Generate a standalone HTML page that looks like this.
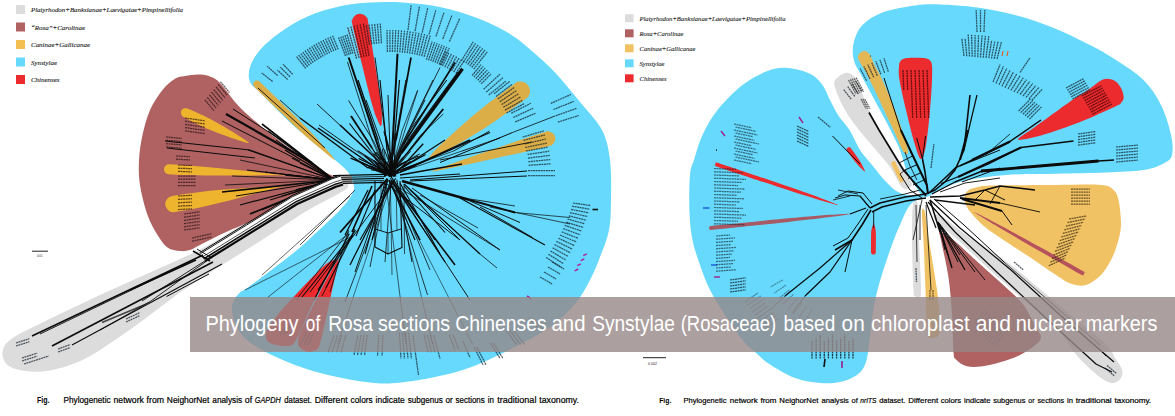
<!DOCTYPE html>
<html><head><meta charset="utf-8"><title>Phylogeny of Rosa</title>
<style>
html,body{margin:0;padding:0;background:#fff;}
body{width:1175px;height:416px;overflow:hidden;position:relative;font-family:"Liberation Sans",sans-serif;}
.banner{position:absolute;left:190px;top:297px;width:985px;height:55px;background:rgba(150,135,135,0.80);}
.banner span{position:absolute;left:15px;top:11px;white-space:nowrap;color:#fff;font-size:23px;line-height:32px;letter-spacing:-0.62px;font-family:"Liberation Sans",sans-serif;}
</style></head><body>
<svg width="1175" height="416" viewBox="0 0 1175 416" style="position:absolute;left:0;top:0">
<path d="M250.0,82.0 C248.3,77.8 248.3,72.3 250.0,67.0 C251.7,61.7 255.0,55.8 260.0,50.0 C265.0,44.2 272.1,38.1 280.0,32.5 C287.9,26.9 297.5,20.9 307.5,16.5 C317.5,12.1 329.6,8.6 340.0,6.3 C350.4,4.0 359.6,3.2 370.0,2.6 C380.4,2.0 390.8,1.8 402.5,2.5 C414.2,3.2 427.6,4.4 440.0,7.0 C452.4,9.6 465.3,13.5 477.0,18.0 C488.7,22.5 500.7,28.3 510.0,34.0 C519.3,39.7 525.5,45.6 533.0,52.0 C540.5,58.4 547.2,64.2 555.0,72.5 C562.8,80.8 572.2,92.4 580.0,102.0 C587.8,111.6 597.0,120.3 602.0,130.0 C607.0,139.7 608.5,148.3 610.0,160.0 C611.5,171.7 611.2,188.3 611.0,200.0 C610.8,211.7 610.8,220.5 609.0,230.0 C607.2,239.5 603.2,248.7 600.0,257.0 C596.8,265.3 594.2,272.2 590.0,280.0 C585.8,287.8 581.7,296.2 575.0,304.0 C568.3,311.8 560.2,319.8 550.0,327.0 C539.8,334.2 527.3,340.8 514.0,347.5 C500.7,354.2 483.6,362.5 470.0,367.5 C456.4,372.5 445.0,374.9 432.5,377.5 C420.0,380.1 405.4,382.2 395.0,383.0 C384.6,383.8 380.4,383.7 370.0,382.5 C359.6,381.3 345.0,378.9 332.5,376.0 C320.0,373.1 307.5,369.8 295.0,365.0 C282.5,360.2 266.7,352.9 257.5,347.5 C248.3,342.1 244.2,337.9 240.0,332.5 C235.8,327.1 233.7,320.0 232.5,315.0 C231.3,310.0 231.8,306.2 233.0,302.5 C234.2,298.8 237.2,295.2 240.0,292.5 C242.8,289.8 241.0,292.7 250.0,286.0 C259.0,279.3 282.8,261.5 294.0,252.5 C305.2,243.5 309.3,239.1 317.0,232.0 C324.7,224.9 334.3,216.0 340.0,210.0 C345.7,204.0 348.7,200.0 351.0,196.0 C353.3,192.0 354.5,190.0 354.0,186.0 C353.5,182.0 351.2,176.3 348.0,172.0 C344.8,167.7 339.7,164.1 335.0,160.0 C330.3,155.9 327.5,153.8 320.0,147.5 C312.5,141.2 300.0,131.7 290.0,122.5 C280.0,113.3 266.7,99.2 260.0,92.5 C253.3,85.8 251.7,86.2 250.0,82.0Z" fill="#66d9fc" />
<path d="M338.0,176.0 C330.0,176.8 314.7,183.7 300.0,191.0 C285.3,198.3 265.8,210.7 250.0,220.0 C234.2,229.3 220.0,239.0 205.0,247.0 C190.0,255.0 177.5,260.0 160.0,268.0 C142.5,276.0 120.4,285.5 100.0,295.0 C79.6,304.5 52.5,317.5 37.5,325.0 C22.5,332.5 15.8,335.4 10.0,340.0 C4.2,344.6 2.9,348.3 2.5,352.5 C2.1,356.7 3.8,361.9 7.5,365.0 C11.2,368.1 17.9,370.1 25.0,371.0 C32.1,371.9 40.4,372.3 50.0,370.5 C59.6,368.7 71.7,365.1 82.5,360.0 C93.3,354.9 103.8,347.5 115.0,340.0 C126.2,332.5 139.2,322.9 150.0,315.0 C160.8,307.1 168.0,300.8 180.0,292.5 C192.0,284.2 208.3,273.8 222.0,265.0 C235.7,256.2 248.2,248.8 262.0,240.0 C275.8,231.2 292.3,219.7 305.0,212.0 C317.7,204.3 330.8,198.3 338.0,194.0 C345.2,189.7 348.0,189.0 348.0,186.0 C348.0,183.0 346.0,175.2 338.0,176.0Z" fill="#dcdcdc" />
<path d="M334.0,178.0 C334.8,175.4 329.4,175.0 325.0,172.0 C320.6,169.0 314.2,164.5 307.5,160.0 C300.8,155.5 292.5,150.4 285.0,145.0 C277.5,139.6 270.0,133.8 262.5,127.5 C255.0,121.2 246.7,114.4 240.0,107.5 C233.3,100.6 226.7,90.8 222.5,86.0 C218.3,81.2 217.9,80.6 215.0,78.8 C212.1,76.9 207.9,75.7 205.0,75.0 C202.1,74.3 200.8,74.3 197.5,74.5 C194.2,74.7 188.8,75.3 185.0,76.0 C181.2,76.7 178.8,76.4 175.0,78.8 C171.2,81.1 166.7,84.8 162.5,90.0 C158.3,95.2 153.3,102.5 150.0,110.0 C146.7,117.5 144.3,126.7 142.5,135.0 C140.7,143.3 139.4,151.7 139.0,160.0 C138.6,168.3 138.6,175.8 140.0,185.0 C141.4,194.2 144.6,206.7 147.5,215.0 C150.4,223.3 154.2,229.6 157.5,235.0 C160.8,240.4 163.8,244.8 167.5,247.5 C171.2,250.2 176.2,250.6 180.0,251.0 C183.8,251.4 186.7,251.0 190.0,250.0 C193.3,249.0 194.2,247.9 200.0,245.0 C205.8,242.1 215.0,237.1 225.0,232.5 C235.0,227.9 249.2,222.5 260.0,217.5 C270.8,212.5 280.0,207.5 290.0,202.5 C300.0,197.5 312.7,191.6 320.0,187.5 C327.3,183.4 333.2,180.6 334.0,178.0Z" fill="#b06262" />
<path d="M183.5,117.0 C186.9,118.7 195.9,123.6 202.3,126.5 C208.7,129.4 215.9,132.2 221.9,134.5 C228.0,136.7 234.1,138.8 238.6,140.2 C243.2,141.6 248.7,143.6 249.0,143.0 C249.3,142.4 244.3,139.3 240.3,136.7 C236.4,134.1 230.9,130.6 225.3,127.4 C219.7,124.1 213.1,120.3 206.8,117.2 C200.5,114.1 190.9,110.1 187.5,108.6 C184.0,107.2 186.6,108.3 186.1,108.2 C185.6,108.2 185.1,108.2 184.7,108.3 C184.2,108.4 183.7,108.5 183.3,108.8 C182.9,109.0 182.5,109.3 182.2,109.6 C181.8,110.0 181.5,110.4 181.3,110.8 C181.1,111.3 181.0,111.7 180.9,112.2 C180.9,112.7 180.9,113.2 181.0,113.6 C181.1,114.1 181.2,114.6 181.5,115.0 C181.7,115.4 182.0,115.8 182.3,116.1 C182.7,116.5 180.2,115.2 183.5,117.0Z" fill="#efb42e" />
<path d="M168.7,174.2 C227.7,177.3 260.7,174.0 300.0,176.0 C260.7,174.0 228.2,167.3 169.3,164.2 A5.0,5.0 0 0 0 168.7,174.2 Z" fill="#efb42e" />
<path d="M174.8,212.1 C231.8,202.6 262.1,189.3 300.0,183.0 C262.1,189.3 229.1,186.5 172.2,195.9 A8.2,8.2 0 0 0 174.8,212.1 Z" fill="#efb42e" />
<path d="M254.4,87.0 C258.4,91.0 270.0,102.1 277.8,109.7 C285.7,117.2 294.8,126.0 301.4,132.2 C308.1,138.3 312.2,141.9 317.8,146.5 C323.4,151.1 334.5,160.5 335.0,160.0 C335.5,159.5 325.8,148.7 321.0,143.2 C316.2,137.8 312.5,133.7 306.2,127.3 C299.8,120.8 290.7,112.0 283.0,104.4 C275.2,96.7 263.7,85.5 259.6,81.6 C255.6,77.7 259.0,81.1 258.7,80.9 C258.3,80.7 257.9,80.6 257.5,80.5 C257.2,80.5 256.7,80.5 256.3,80.6 C256.0,80.6 255.6,80.8 255.2,80.9 C254.9,81.1 254.5,81.4 254.3,81.7 C254.0,81.9 253.8,82.3 253.6,82.6 C253.4,83.0 253.3,83.4 253.2,83.8 C253.2,84.1 253.2,84.6 253.3,85.0 C253.3,85.3 253.5,85.7 253.6,86.1 C253.8,86.4 250.3,83.1 254.4,87.0Z" fill="#dcae48" />
<path d="M514.9,83.4 C509.1,87.6 491.3,100.9 483.1,107.4 C474.9,113.8 472.1,116.4 465.7,122.0 C459.2,127.6 449.4,136.7 444.5,141.2 C439.6,145.7 438.8,146.2 436.2,149.1 C433.6,152.0 428.3,157.6 429.0,158.5 C429.7,159.4 436.6,156.0 440.1,154.4 C443.6,152.8 444.4,152.2 450.1,148.8 C455.9,145.5 467.4,138.7 474.7,134.2 C482.0,129.8 485.3,127.8 493.8,121.9 C502.4,116.0 520.4,102.9 526.1,98.6 C531.9,94.4 527.7,97.3 528.2,96.5 C528.8,95.7 529.3,94.8 529.6,93.9 C529.9,92.9 530.0,91.9 530.0,90.9 C530.0,90.0 529.8,88.9 529.5,88.0 C529.2,87.1 528.7,86.1 528.1,85.4 C527.6,84.6 526.8,83.8 526.0,83.3 C525.2,82.7 524.3,82.2 523.4,81.9 C522.4,81.6 521.4,81.5 520.4,81.5 C519.5,81.5 518.4,81.7 517.5,82.0 C516.6,82.3 520.6,79.1 514.9,83.4Z" fill="#dcae48" />
<path d="M546.0,131.7 C541.8,132.9 532.2,136.0 523.1,139.0 C513.9,142.1 502.5,146.1 491.1,150.0 C479.7,153.9 464.5,159.1 454.6,162.7 C444.8,166.2 431.8,170.6 432.0,171.3 C432.2,172.0 445.5,169.0 455.8,166.9 C466.0,164.8 481.8,161.3 493.5,158.7 C505.3,156.1 517.1,153.6 526.5,151.4 C535.9,149.2 545.7,146.8 550.0,145.7 C554.2,144.6 551.4,145.2 552.1,144.8 C552.7,144.4 553.3,143.8 553.7,143.2 C554.2,142.6 554.6,141.9 554.8,141.2 C555.1,140.5 555.3,139.7 555.3,139.0 C555.3,138.2 555.2,137.4 555.0,136.7 C554.8,136.0 554.5,135.3 554.1,134.6 C553.7,134.0 553.1,133.4 552.5,133.0 C551.9,132.5 551.2,132.1 550.5,131.9 C549.8,131.6 549.0,131.4 548.3,131.4 C547.5,131.4 550.2,130.4 546.0,131.7Z" fill="#dcae48" />
<path d="M352.2,23.4 C353.7,30.2 358.0,48.0 361.3,61.7 C364.7,75.3 369.6,95.4 372.3,105.0 C374.9,114.6 375.7,115.7 377.2,119.2 C378.6,122.7 380.2,126.2 381.0,126.0 C381.8,125.8 381.9,122.0 381.9,118.2 C381.9,114.4 382.2,113.1 380.9,103.2 C379.6,93.4 376.4,72.9 374.2,59.1 C372.0,45.2 369.0,27.1 367.8,20.2 C366.6,13.4 367.4,18.6 367.0,17.9 C366.6,17.2 366.0,16.5 365.4,15.9 C364.8,15.4 364.1,14.9 363.3,14.5 C362.6,14.2 361.7,13.9 360.9,13.9 C360.1,13.8 359.2,13.8 358.4,14.0 C357.6,14.1 356.8,14.4 356.1,14.8 C355.4,15.2 354.7,15.8 354.1,16.4 C353.6,17.0 353.1,17.7 352.7,18.5 C352.4,19.2 352.1,20.1 352.1,20.9 C352.0,21.7 350.6,16.6 352.2,23.4Z" fill="#ec2b2f" />
<path d="M336.0,260.0 C334.7,259.8 331.0,260.0 325.0,265.0 C319.0,270.0 307.9,281.7 300.0,290.0 C292.1,298.3 283.2,307.8 277.5,315.0 C271.8,322.2 267.2,328.3 266.0,333.0 C264.8,337.7 266.5,340.8 270.0,343.0 C273.5,345.2 282.7,346.5 287.0,346.0 C291.3,345.5 291.8,346.8 296.0,340.0 C300.2,333.2 305.8,317.3 312.0,305.0 C318.2,292.7 329.0,273.5 333.0,266.0 C337.0,258.5 337.3,260.2 336.0,260.0Z" fill="#ec2b2f" />
<path d="M337.0,261.0 C334.8,264.2 329.2,274.2 325.0,282.0 C320.8,289.8 316.5,298.3 312.0,308.0 C307.5,317.7 299.2,332.8 298.0,340.0 C296.8,347.2 302.0,349.3 305.0,351.0 C308.0,352.7 313.3,351.8 316.0,350.0 C318.7,348.2 318.7,348.3 321.0,340.0 C323.3,331.7 327.2,312.8 330.0,300.0 C332.8,287.2 336.8,269.5 338.0,263.0 C339.2,256.5 339.2,257.8 337.0,261.0Z" fill="#ec2b2f" />
<path d="M787.5,68.0 C794.6,68.5 804.2,70.9 810.0,73.8 C815.8,76.6 819.2,80.6 822.5,85.0 C825.8,89.4 827.4,95.0 830.0,100.0 C832.6,105.0 834.8,110.0 838.0,115.0 C841.2,120.0 845.8,124.2 849.5,130.0 C853.2,135.8 856.3,144.3 860.0,150.0 C863.7,155.7 867.3,159.1 871.6,164.4 C875.9,169.7 881.7,177.1 886.0,181.7 C890.3,186.3 893.9,189.6 897.6,191.8 C901.3,194.0 903.6,194.3 908.0,195.0 C912.4,195.7 923.7,194.3 924.0,196.0 C924.3,197.7 914.0,200.2 910.0,205.0 C906.0,209.8 902.8,218.8 900.0,225.0 C897.2,231.2 895.5,235.3 893.0,242.0 C890.5,248.7 887.6,257.0 885.0,265.0 C882.4,273.0 879.6,281.7 877.5,290.0 C875.4,298.3 873.8,307.2 872.5,315.0 C871.2,322.8 871.1,329.2 870.0,337.0 C868.9,344.8 868.1,355.8 866.0,362.0 C863.9,368.2 861.8,371.2 857.5,374.5 C853.2,377.8 846.2,380.6 840.0,382.0 C833.8,383.4 827.5,383.7 820.0,383.0 C812.5,382.3 803.3,381.1 795.0,378.0 C786.7,374.9 776.7,368.8 770.0,364.5 C763.3,360.2 759.6,356.1 755.0,352.0 C750.4,347.9 747.5,346.2 742.5,340.0 C737.5,333.8 730.4,323.3 725.0,315.0 C719.6,306.7 714.2,298.3 710.0,290.0 C705.8,281.7 702.9,273.3 700.0,265.0 C697.1,256.7 694.2,248.8 692.5,240.0 C690.8,231.2 689.9,223.3 689.5,212.5 C689.1,201.7 689.2,183.8 690.0,175.0 C690.8,166.2 691.9,166.7 694.0,160.0 C696.1,153.3 698.6,143.3 702.5,135.0 C706.4,126.7 710.8,118.3 717.5,110.0 C724.2,101.7 734.2,91.5 742.5,85.0 C750.8,78.5 760.0,73.8 767.5,71.0 C775.0,68.2 780.4,67.5 787.5,68.0Z" fill="#66d9fc" />
<path d="M925.0,197.0 C921.0,196.5 918.8,190.7 916.0,187.0 C913.2,183.3 910.0,179.0 908.0,175.0 C906.0,171.0 905.3,167.2 904.0,163.0 C902.7,158.8 901.8,154.7 900.0,150.0 C898.2,145.3 896.3,141.7 893.0,135.0 C889.7,128.3 885.1,119.6 880.0,110.0 C874.9,100.4 866.9,85.8 862.5,77.5 C858.1,69.2 855.2,65.8 853.8,60.0 C852.3,54.2 852.3,48.3 853.8,42.5 C855.2,36.7 857.7,30.0 862.5,25.0 C867.3,20.0 873.8,15.8 882.5,12.5 C891.2,9.2 905.4,6.8 915.0,5.5 C924.6,4.2 929.6,4.2 940.0,4.5 C950.4,4.8 965.0,5.8 977.5,7.5 C990.0,9.2 1002.5,11.7 1015.0,15.0 C1027.5,18.3 1040.0,22.5 1052.5,27.5 C1065.0,32.5 1079.4,39.6 1090.0,45.0 C1100.6,50.4 1107.1,54.2 1116.0,60.0 C1124.9,65.8 1136.0,72.5 1143.5,80.0 C1151.0,87.5 1156.4,95.8 1161.0,105.0 C1165.6,114.2 1169.2,126.7 1171.0,135.0 C1172.8,143.3 1173.2,150.2 1172.0,155.0 C1170.8,159.8 1168.2,161.0 1163.5,163.5 C1158.8,166.0 1153.1,168.5 1143.5,170.0 C1133.9,171.5 1120.6,171.9 1106.0,172.5 C1091.4,173.1 1072.7,173.3 1056.0,173.8 C1039.3,174.2 1021.4,173.8 1006.0,175.0 C990.6,176.2 974.5,178.5 963.5,181.0 C952.5,183.5 946.4,187.3 940.0,190.0 C933.6,192.7 929.0,197.5 925.0,197.0Z" fill="#66d9fc" />
<path d="M845.5,73.0 C848.3,72.4 851.0,73.9 853.0,75.5 C855.0,77.1 855.0,77.2 857.5,82.5 C860.0,87.8 864.4,99.6 868.0,107.5 C871.6,115.4 875.1,122.9 879.0,130.0 C882.9,137.1 887.3,143.6 891.5,150.0 C895.7,156.4 900.6,162.8 904.0,168.5 C907.4,174.2 912.2,180.8 912.0,184.0 C911.8,187.2 906.7,190.8 903.0,188.0 C899.3,185.2 894.5,173.3 890.0,167.0 C885.5,160.7 881.2,156.2 876.0,150.0 C870.8,143.8 864.2,136.7 859.0,130.0 C853.8,123.3 849.0,117.1 845.0,110.0 C841.0,102.9 836.5,92.7 835.0,87.5 C833.5,82.3 834.2,81.4 836.0,79.0 C837.8,76.6 842.7,73.6 845.5,73.0Z" fill="#dcdcdc" />
<path d="M864.5,51.0 C866.0,51.1 867.8,52.3 869.0,53.5 C870.2,54.7 870.5,55.9 871.5,58.0 C872.5,60.1 873.6,63.2 875.0,66.0 C876.4,68.8 877.8,70.5 880.0,75.0 C882.2,79.5 885.5,87.2 888.0,93.0 C890.5,98.8 892.7,103.8 895.0,110.0 C897.3,116.2 899.8,123.2 902.0,130.0 C904.2,136.8 907.7,147.3 908.0,151.0 C908.3,154.7 906.1,155.5 903.7,152.0 C901.3,148.5 896.2,135.8 893.5,130.0 C890.8,124.2 890.2,123.3 887.5,117.5 C884.8,111.7 880.6,102.5 877.0,95.0 C873.4,87.5 868.7,77.7 866.0,72.5 C863.3,67.3 862.3,66.4 861.0,64.0 C859.7,61.6 858.2,59.8 858.0,58.0 C857.8,56.2 858.9,54.2 860.0,53.0 C861.1,51.8 863.0,50.9 864.5,51.0Z" fill="#e4b755" />
<path d="M899.0,66.0 C899.2,62.8 899.7,61.8 901.0,60.5 C902.3,59.2 903.2,58.4 907.0,58.0 C910.8,57.6 920.2,57.6 924.0,58.0 C927.8,58.4 928.7,59.2 930.0,60.5 C931.3,61.8 931.7,62.8 932.0,66.0 C932.3,69.2 932.3,72.7 932.0,80.0 C931.7,87.3 931.0,99.2 930.0,110.0 C929.0,120.8 927.5,136.8 926.0,145.0 C924.5,153.2 922.8,159.0 921.0,159.0 C919.2,159.0 917.5,153.2 915.0,145.0 C912.5,136.8 908.6,120.8 906.0,110.0 C903.4,99.2 900.7,87.3 899.5,80.0 C898.3,72.7 898.8,69.2 899.0,66.0Z" fill="#ec2b2f" />
<path d="M1100.0,81.0 C1102.8,79.4 1104.5,78.7 1107.0,78.7 C1109.5,78.7 1112.7,79.5 1115.0,81.0 C1117.3,82.5 1119.5,85.2 1121.0,88.0 C1122.5,90.8 1123.7,95.0 1123.7,97.5 C1123.7,100.0 1122.3,101.5 1121.0,103.0 C1119.7,104.5 1121.5,103.5 1115.8,106.2 C1110.1,108.9 1096.4,115.2 1086.8,119.2 C1077.2,123.2 1066.5,127.0 1057.9,130.0 C1049.3,133.0 1041.7,135.4 1035.0,137.0 C1028.3,138.6 1018.5,140.8 1018.0,139.5 C1017.5,138.2 1026.5,133.2 1031.8,129.3 C1037.1,125.4 1043.0,121.0 1050.0,116.0 C1057.0,111.0 1067.1,103.6 1073.8,99.0 C1080.5,94.4 1085.6,91.5 1090.0,88.5 C1094.4,85.5 1097.2,82.6 1100.0,81.0Z" fill="#ec2b2f" />
<path d="M716.4,166.5 C726.6,169.9 759.7,180.9 776.9,186.5 C794.1,192.1 809.3,196.9 819.5,200.0 C829.7,203.1 837.9,205.3 838.0,205.0 C838.1,204.7 830.2,201.5 820.2,197.9 C810.2,194.2 795.2,189.0 778.1,183.1 C761.0,177.2 727.8,166.1 717.6,162.7 C707.5,159.3 717.2,162.6 717.0,162.6 C716.8,162.6 716.6,162.6 716.4,162.7 C716.2,162.8 716.0,162.9 715.8,163.0 C715.7,163.1 715.5,163.2 715.4,163.4 C715.3,163.6 715.2,163.8 715.1,164.0 C715.0,164.2 715.0,164.4 715.0,164.6 C715.0,164.8 715.0,165.0 715.1,165.2 C715.2,165.4 715.3,165.6 715.4,165.8 C715.5,165.9 715.6,166.1 715.8,166.2 C716.0,166.3 706.2,163.1 716.4,166.5Z" fill="#ec2b2f" />
<path d="M711.2,230.0 C723.0,228.8 761.4,224.9 781.2,222.7 C801.0,220.5 818.5,218.5 830.1,217.0 C841.7,215.5 851.0,214.2 851.0,213.8 C851.0,213.4 841.6,214.0 829.9,214.8 C818.2,215.7 800.7,217.2 780.8,219.1 C761.0,221.0 722.6,224.8 710.8,226.0 C699.0,227.2 710.4,226.1 710.2,226.2 C710.0,226.3 709.8,226.4 709.7,226.5 C709.5,226.6 709.4,226.8 709.3,227.0 C709.2,227.2 709.1,227.4 709.0,227.6 C709.0,227.8 709.0,228.0 709.0,228.2 C709.0,228.4 709.1,228.6 709.2,228.8 C709.3,229.0 709.4,229.2 709.5,229.3 C709.6,229.5 709.8,229.6 710.0,229.7 C710.2,229.8 710.4,229.9 710.6,230.0 C710.8,230.0 699.4,231.2 711.2,230.0Z" fill="#a85a64" />
<path d="M847.1,151.0 C848.2,152.6 851.6,157.2 853.6,159.7 C855.5,162.2 856.9,164.0 858.8,165.9 C860.8,167.9 864.5,171.8 865.0,171.5 C865.5,171.2 862.8,166.4 861.6,163.9 C860.3,161.5 859.0,159.6 857.2,157.0 C855.5,154.4 852.1,149.7 850.9,148.2 C849.8,146.6 850.6,147.8 850.4,147.7 C850.2,147.5 850.0,147.4 849.7,147.3 C849.5,147.2 849.2,147.2 849.0,147.2 C848.7,147.2 848.5,147.2 848.3,147.3 C848.0,147.4 847.8,147.5 847.6,147.7 C847.4,147.8 847.2,148.0 847.1,148.2 C846.9,148.4 846.8,148.6 846.7,148.9 C846.6,149.1 846.6,149.4 846.6,149.6 C846.6,149.9 846.6,150.1 846.7,150.3 C846.8,150.6 845.9,149.5 847.1,151.0Z" fill="#ec2b2f" />
<path d="M893.5,163.5 L901.5,180" fill="none" stroke="#f1c264" stroke-width="4.6" stroke-linecap="round"/>
<path d="M875.8,252.2 C875.8,249.1 876.0,238.4 875.9,234.4 C875.8,230.4 875.6,230.0 875.4,228.5 C875.1,226.9 874.6,225.9 874.3,224.9 C874.0,223.9 873.8,222.5 873.6,222.5 C873.4,222.5 873.2,223.9 872.9,224.9 C872.6,225.9 872.1,226.8 871.8,228.4 C871.5,230.0 871.2,230.4 871.1,234.4 C871.0,238.3 871.0,249.1 871.0,252.2 C871.0,255.3 871.0,252.7 871.1,252.9 C871.2,253.2 871.3,253.4 871.4,253.6 C871.6,253.8 871.8,254.0 872.0,254.1 C872.2,254.3 872.4,254.4 872.6,254.5 C872.9,254.6 873.1,254.6 873.4,254.6 C873.6,254.6 873.9,254.6 874.1,254.5 C874.4,254.4 874.6,254.3 874.8,254.2 C875.0,254.0 875.2,253.8 875.3,253.6 C875.5,253.4 875.6,253.2 875.7,253.0 C875.8,252.7 875.8,255.3 875.8,252.2Z" fill="#ec2b2f" />
<path d="M964.5,197.0 C964.8,194.6 965.8,192.2 968.0,190.5 C970.2,188.8 973.8,187.8 978.0,187.0 C982.2,186.2 980.5,185.8 993.5,185.5 C1006.5,185.2 1038.1,185.1 1056.0,185.0 C1073.9,184.9 1091.4,184.2 1101.0,185.0 C1110.6,185.8 1110.6,187.5 1113.5,190.0 C1116.4,192.5 1117.2,194.2 1118.5,200.0 C1119.8,205.8 1121.2,217.5 1121.0,225.0 C1120.8,232.5 1118.7,239.2 1117.0,245.0 C1115.3,250.8 1113.7,255.0 1111.0,260.0 C1108.3,265.0 1105.2,270.8 1101.0,275.0 C1096.8,279.2 1091.0,283.5 1086.0,285.0 C1081.0,286.5 1076.0,285.4 1071.0,283.8 C1066.0,282.1 1063.2,279.6 1056.0,275.0 C1048.8,270.4 1036.8,261.8 1028.0,256.0 C1019.2,250.2 1010.7,244.8 1003.5,240.0 C996.3,235.2 990.2,231.3 985.0,227.0 C979.8,222.7 975.2,217.7 972.0,214.0 C968.8,210.3 967.2,207.8 966.0,205.0 C964.8,202.2 964.2,199.4 964.5,197.0Z" fill="#f1c264" />
<path d="M1083.3,271.2 C1076.0,267.1 1054.4,255.0 1039.9,247.0 C1025.3,239.1 1007.2,229.1 996.2,223.3 C985.2,217.4 974.2,211.7 974.0,212.0 C973.8,212.3 984.5,218.8 995.1,225.1 C1005.8,231.5 1023.7,241.9 1038.1,250.2 C1052.5,258.4 1074.0,270.7 1081.3,274.8 C1088.6,279.0 1081.7,275.0 1081.9,275.1 C1082.1,275.1 1082.3,275.1 1082.5,275.1 C1082.8,275.1 1083.0,275.0 1083.2,274.9 C1083.4,274.8 1083.6,274.7 1083.7,274.5 C1083.9,274.4 1084.0,274.2 1084.1,274.0 C1084.2,273.8 1084.3,273.6 1084.4,273.4 C1084.4,273.2 1084.4,273.0 1084.4,272.8 C1084.4,272.5 1084.3,272.3 1084.2,272.1 C1084.1,271.9 1084.0,271.7 1083.8,271.6 C1083.7,271.4 1090.7,275.3 1083.3,271.2Z" fill="#b5525c" />
<path d="M940.0,232.0 C937.9,232.0 939.6,232.4 941.0,240.0 C942.4,247.6 946.7,265.0 948.5,277.5 C950.3,290.0 951.2,302.6 952.0,315.0 C952.8,327.4 952.8,344.6 953.5,352.0 C954.2,359.4 953.9,357.2 956.0,359.5 C958.1,361.8 961.8,364.8 966.0,366.0 C970.2,367.2 975.2,367.2 981.0,366.5 C986.8,365.8 994.3,364.0 1001.0,362.0 C1007.7,360.0 1015.2,357.4 1021.0,354.5 C1026.8,351.6 1032.7,347.4 1036.0,344.5 C1039.3,341.6 1041.0,339.8 1041.0,337.0 C1041.0,334.2 1038.9,332.8 1036.0,327.5 C1033.1,322.2 1028.5,311.7 1023.5,305.0 C1018.5,298.3 1013.1,294.2 1006.0,287.5 C998.9,280.8 989.8,272.9 981.0,265.0 C972.2,257.1 960.3,245.5 953.5,240.0 C946.7,234.5 942.1,232.0 940.0,232.0Z" fill="#b06262" />
<path d="M940.0,215.0 C944.8,217.2 955.8,227.6 963.5,233.0 C971.2,238.4 978.1,242.2 986.0,247.5 C993.9,252.8 1001.8,257.9 1011.0,265.0 C1020.2,272.1 1031.0,281.7 1041.0,290.0 C1051.0,298.3 1060.2,306.0 1071.0,315.0 C1081.8,324.0 1098.7,336.8 1106.0,344.0 C1113.3,351.2 1112.3,353.8 1115.0,358.0 C1117.7,362.2 1121.0,366.2 1122.0,369.5 C1123.0,372.8 1122.3,375.8 1121.0,378.0 C1119.7,380.2 1116.5,382.5 1114.0,383.0 C1111.5,383.5 1109.4,382.8 1106.0,381.0 C1102.6,379.2 1098.5,376.4 1093.5,372.0 C1088.5,367.6 1082.2,361.9 1076.0,354.5 C1069.8,347.1 1065.2,337.0 1056.0,327.5 C1046.8,318.0 1032.0,307.1 1021.0,297.5 C1010.0,287.9 1000.2,279.2 990.0,270.0 C979.8,260.8 969.2,250.3 960.0,242.0 C950.8,233.7 938.3,224.5 935.0,220.0 C931.7,215.5 935.2,212.8 940.0,215.0Z" fill="#dcdcdc" />
<path d="M918.0,205.0 C919.0,210.8 918.5,225.8 919.0,240.0 C919.5,254.2 921.0,280.5 921.0,290.0 C921.0,299.5 920.0,296.0 919.0,297.0 C918.0,298.0 915.9,297.2 915.0,296.0 C914.1,294.8 914.0,299.3 913.5,290.0 C913.0,280.7 912.1,254.2 912.0,240.0 C911.9,225.8 912.0,210.8 913.0,205.0 C914.0,199.2 917.0,199.2 918.0,205.0Z" fill="#dcdcdc" />
<path d="M925.0,212.0 C926.2,216.7 927.0,227.0 929.0,240.0 C931.0,253.0 935.2,276.7 937.0,290.0 C938.8,303.3 939.7,312.7 940.0,320.0 C940.3,327.3 940.2,331.0 939.0,334.0 C937.8,337.0 935.0,338.0 933.0,338.0 C931.0,338.0 928.2,338.3 927.0,334.0 C925.8,329.7 926.2,319.3 926.0,312.0 C925.8,304.7 925.9,302.0 925.5,290.0 C925.1,278.0 924.1,253.0 923.5,240.0 C922.9,227.0 921.8,216.7 922.0,212.0 C922.2,207.3 923.8,207.3 925.0,212.0Z" fill="#f1c264" />
<line x1="333.0" y1="179.5" x2="352.0" y2="179.5" stroke="#b4b4b4" stroke-width="7.00"/>
<line x1="333.0" y1="175.6" x2="384.0" y2="174.4" stroke="#0b0b0b" stroke-width="1.30"/>
<line x1="333.0" y1="177.6" x2="384.0" y2="176.4" stroke="#0b0b0b" stroke-width="0.80"/>
<line x1="333.0" y1="179.6" x2="384.0" y2="178.4" stroke="#0b0b0b" stroke-width="1.10"/>
<line x1="333.0" y1="181.6" x2="384.0" y2="180.4" stroke="#0b0b0b" stroke-width="0.80"/>
<line x1="333.0" y1="183.6" x2="384.0" y2="182.4" stroke="#0b0b0b" stroke-width="1.30"/>
<line x1="334.0" y1="180.0" x2="262.0" y2="124.0" stroke="#0b0b0b" stroke-width="1.60"/>
<line x1="334.0" y1="180.0" x2="268.0" y2="131.0" stroke="#0b0b0b" stroke-width="1.20"/>
<line x1="334.0" y1="180.0" x2="276.0" y2="140.0" stroke="#0b0b0b" stroke-width="1.00"/>
<line x1="334.0" y1="180.0" x2="248.0" y2="150.0" stroke="#0b0b0b" stroke-width="1.00"/>
<line x1="334.0" y1="180.0" x2="240.0" y2="160.0" stroke="#0b0b0b" stroke-width="0.80"/>
<line x1="334.0" y1="180.0" x2="285.0" y2="150.0" stroke="#0b0b0b" stroke-width="1.40"/>
<line x1="334.0" y1="180.0" x2="292.0" y2="158.0" stroke="#0b0b0b" stroke-width="1.40"/>
<line x1="334.0" y1="180.0" x2="300.0" y2="163.0" stroke="#0b0b0b" stroke-width="1.20"/>
<line x1="334.0" y1="180.0" x2="247.0" y2="170.0" stroke="#0b0b0b" stroke-width="1.00"/>
<line x1="334.0" y1="180.0" x2="232.0" y2="176.0" stroke="#0b0b0b" stroke-width="0.80"/>
<line x1="334.0" y1="180.0" x2="265.0" y2="172.0" stroke="#0b0b0b" stroke-width="1.20"/>
<line x1="334.0" y1="180.0" x2="285.0" y2="175.0" stroke="#0b0b0b" stroke-width="1.40"/>
<line x1="334.0" y1="180.0" x2="222.0" y2="192.0" stroke="#0b0b0b" stroke-width="1.60"/>
<line x1="334.0" y1="180.0" x2="236.0" y2="196.0" stroke="#0b0b0b" stroke-width="1.00"/>
<line x1="334.0" y1="180.0" x2="240.0" y2="205.0" stroke="#0b0b0b" stroke-width="1.20"/>
<line x1="334.0" y1="180.0" x2="250.0" y2="214.0" stroke="#0b0b0b" stroke-width="1.80"/>
<line x1="334.0" y1="180.0" x2="262.0" y2="210.0" stroke="#0b0b0b" stroke-width="1.00"/>
<line x1="334.0" y1="180.0" x2="270.0" y2="200.0" stroke="#0b0b0b" stroke-width="1.20"/>
<line x1="334.0" y1="180.0" x2="282.0" y2="196.0" stroke="#0b0b0b" stroke-width="1.20"/>
<line x1="334.0" y1="180.0" x2="296.0" y2="190.0" stroke="#0b0b0b" stroke-width="1.40"/>
<line x1="334.0" y1="180.0" x2="225.0" y2="185.0" stroke="#0b0b0b" stroke-width="0.80"/>
<line x1="226.0" y1="114.0" x2="312.0" y2="163.0" stroke="#0b0b0b" stroke-width="2.20"/>
<line x1="222.0" y1="121.0" x2="300.0" y2="161.0" stroke="#0b0b0b" stroke-width="1.00"/>
<line x1="233.0" y1="109.0" x2="292.0" y2="147.0" stroke="#0b0b0b" stroke-width="1.00"/>
<line x1="165.0" y1="141.0" x2="250.0" y2="150.0" stroke="#0b0b0b" stroke-width="1.20"/>
<line x1="167.0" y1="148.0" x2="255.0" y2="158.0" stroke="#0b0b0b" stroke-width="1.00"/>
<line x1="250.0" y1="150.0" x2="334.0" y2="180.0" stroke="#0b0b0b" stroke-width="1.00"/>
<polyline points="341.7,180.0 333.6,182.6 294.5,200.1 248.5,228.6 202.5,257.1" fill="none" stroke="#fff" stroke-width="9.00" stroke-linejoin="round"/>
<polyline points="340.2,175.1 331.6,177.8 292.0,195.5 245.7,224.2 199.7,252.7" fill="none" stroke="#0b0b0b" stroke-width="1.00" stroke-linejoin="round"/>
<polyline points="340.5,176.2 332.0,178.9 292.6,196.6 246.4,225.2 200.4,253.7" fill="none" stroke="#0b0b0b" stroke-width="0.90" stroke-linejoin="round"/>
<polyline points="342.8,183.5 335.0,185.9 296.2,203.3 250.4,231.7 204.4,260.2" fill="none" stroke="#0b0b0b" stroke-width="4.40" stroke-linejoin="round"/>
<polyline points="342.7,183.1 334.9,185.5 296.0,202.9 250.2,231.4 204.2,259.9" fill="none" stroke="#fff" stroke-width="0.70" stroke-linejoin="round"/>
<polyline points="341.6,179.9 333.5,182.4 294.4,199.9 248.4,228.5 202.4,257.0" fill="none" stroke="#0b0b0b" stroke-width="0.70" stroke-linejoin="round"/>
<line x1="193.0" y1="251.0" x2="210.0" y2="261.0" stroke="#0b0b0b" stroke-width="1.60"/>
<line x1="197.0" y1="249.0" x2="212.0" y2="258.0" stroke="#0b0b0b" stroke-width="0.90"/>
<line x1="203.0" y1="255.0" x2="32.0" y2="336.0" stroke="#0b0b0b" stroke-width="1.60"/>
<line x1="213.0" y1="262.0" x2="52.0" y2="346.0" stroke="#0b0b0b" stroke-width="1.60"/>
<line x1="222.0" y1="264.0" x2="72.0" y2="345.0" stroke="#0b0b0b" stroke-width="1.10"/>
<line x1="190.0" y1="262.0" x2="40.0" y2="334.0" stroke="#0b0b0b" stroke-width="0.90"/>
<line x1="150.0" y1="302.5" x2="102.0" y2="322.5" stroke="#444" stroke-width="1.60"/>
<line x1="209.0" y1="274.0" x2="166.5" y2="296.5" stroke="#0b0b0b" stroke-width="1.00"/>
<line x1="219.0" y1="252.0" x2="151.0" y2="301.0" stroke="#0b0b0b" stroke-width="0.90"/>
<line x1="219.0" y1="252.0" x2="142.0" y2="301.0" stroke="#0b0b0b" stroke-width="0.90"/>
<line x1="151.0" y1="301.0" x2="100.0" y2="330.0" stroke="#0b0b0b" stroke-width="0.80"/>
<line x1="196.0" y1="260.0" x2="130.0" y2="290.0" stroke="#0b0b0b" stroke-width="1.40"/>
<line x1="317.0" y1="104.0" x2="368.0" y2="151.0" stroke="#0b0b0b" stroke-width="0.90"/>
<line x1="368.0" y1="151.0" x2="388.9" y2="172.8" stroke="#0b0b0b" stroke-width="0.70"/>
<line x1="319.0" y1="125.0" x2="356.0" y2="151.0" stroke="#0b0b0b" stroke-width="0.90"/>
<line x1="356.0" y1="151.0" x2="390.9" y2="172.4" stroke="#0b0b0b" stroke-width="0.70"/>
<line x1="348.7" y1="57.5" x2="382.0" y2="158.0" stroke="#0b0b0b" stroke-width="2.00"/>
<line x1="382.0" y1="158.0" x2="390.2" y2="173.8" stroke="#0b0b0b" stroke-width="1.40"/>
<line x1="347.5" y1="62.0" x2="372.0" y2="140.0" stroke="#0b0b0b" stroke-width="0.80"/>
<line x1="372.0" y1="140.0" x2="387.3" y2="174.5" stroke="#0b0b0b" stroke-width="0.70"/>
<line x1="358.0" y1="80.0" x2="378.0" y2="140.0" stroke="#0b0b0b" stroke-width="1.30"/>
<line x1="378.0" y1="140.0" x2="387.2" y2="174.2" stroke="#0b0b0b" stroke-width="0.91"/>
<line x1="348.6" y1="100.5" x2="374.0" y2="142.0" stroke="#0b0b0b" stroke-width="0.90"/>
<line x1="374.0" y1="142.0" x2="387.4" y2="172.5" stroke="#0b0b0b" stroke-width="0.70"/>
<line x1="351.0" y1="116.0" x2="372.0" y2="148.0" stroke="#0b0b0b" stroke-width="1.80"/>
<line x1="372.0" y1="148.0" x2="389.5" y2="176.1" stroke="#0b0b0b" stroke-width="1.26"/>
<line x1="349.5" y1="123.5" x2="370.0" y2="150.0" stroke="#0b0b0b" stroke-width="1.20"/>
<line x1="370.0" y1="150.0" x2="387.7" y2="173.1" stroke="#0b0b0b" stroke-width="0.84"/>
<line x1="340.0" y1="125.0" x2="377.5" y2="160.0" stroke="#0b0b0b" stroke-width="1.60"/>
<line x1="377.5" y1="160.0" x2="390.8" y2="176.7" stroke="#0b0b0b" stroke-width="1.12"/>
<line x1="375.0" y1="57.5" x2="386.0" y2="140.0" stroke="#0b0b0b" stroke-width="0.90"/>
<line x1="386.0" y1="140.0" x2="390.5" y2="174.0" stroke="#0b0b0b" stroke-width="0.70"/>
<line x1="380.0" y1="80.0" x2="387.0" y2="150.0" stroke="#0b0b0b" stroke-width="1.10"/>
<line x1="387.0" y1="150.0" x2="392.9" y2="172.2" stroke="#0b0b0b" stroke-width="0.77"/>
<line x1="397.5" y1="53.7" x2="392.0" y2="155.0" stroke="#0b0b0b" stroke-width="2.00"/>
<line x1="392.0" y1="155.0" x2="392.2" y2="173.4" stroke="#0b0b0b" stroke-width="1.40"/>
<line x1="399.5" y1="80.0" x2="393.5" y2="151.0" stroke="#0b0b0b" stroke-width="1.20"/>
<line x1="393.5" y1="151.0" x2="387.9" y2="172.6" stroke="#0b0b0b" stroke-width="0.84"/>
<line x1="411.0" y1="57.5" x2="396.0" y2="140.0" stroke="#0b0b0b" stroke-width="1.70"/>
<line x1="396.0" y1="140.0" x2="388.9" y2="176.1" stroke="#0b0b0b" stroke-width="1.19"/>
<line x1="405.8" y1="80.0" x2="397.0" y2="131.0" stroke="#0b0b0b" stroke-width="0.80"/>
<line x1="397.0" y1="131.0" x2="388.1" y2="174.9" stroke="#0b0b0b" stroke-width="0.70"/>
<line x1="417.7" y1="90.0" x2="402.0" y2="131.0" stroke="#0b0b0b" stroke-width="0.70"/>
<line x1="402.0" y1="131.0" x2="390.8" y2="173.9" stroke="#0b0b0b" stroke-width="0.70"/>
<line x1="440.0" y1="67.5" x2="404.0" y2="140.0" stroke="#0b0b0b" stroke-width="0.80"/>
<line x1="404.0" y1="140.0" x2="390.3" y2="172.3" stroke="#0b0b0b" stroke-width="0.70"/>
<line x1="433.0" y1="80.0" x2="406.0" y2="136.0" stroke="#0b0b0b" stroke-width="0.80"/>
<line x1="406.0" y1="136.0" x2="387.4" y2="173.0" stroke="#0b0b0b" stroke-width="0.70"/>
<line x1="462.5" y1="68.7" x2="401.0" y2="153.0" stroke="#0b0b0b" stroke-width="3.20"/>
<line x1="401.0" y1="153.0" x2="391.1" y2="174.1" stroke="#0b0b0b" stroke-width="2.24"/>
<line x1="455.0" y1="62.5" x2="403.0" y2="145.0" stroke="#0b0b0b" stroke-width="1.60"/>
<line x1="403.0" y1="145.0" x2="388.9" y2="174.9" stroke="#0b0b0b" stroke-width="1.12"/>
<line x1="458.0" y1="72.0" x2="408.0" y2="140.0" stroke="#0b0b0b" stroke-width="1.20"/>
<line x1="408.0" y1="140.0" x2="389.7" y2="173.5" stroke="#0b0b0b" stroke-width="0.84"/>
<line x1="446.8" y1="80.0" x2="410.0" y2="130.0" stroke="#0b0b0b" stroke-width="1.00"/>
<line x1="410.0" y1="130.0" x2="391.8" y2="175.5" stroke="#0b0b0b" stroke-width="0.70"/>
<line x1="443.3" y1="109.0" x2="409.0" y2="151.0" stroke="#0b0b0b" stroke-width="1.80"/>
<line x1="409.0" y1="151.0" x2="388.5" y2="174.9" stroke="#0b0b0b" stroke-width="1.26"/>
<line x1="443.3" y1="114.0" x2="419.5" y2="136.3" stroke="#0b0b0b" stroke-width="0.80"/>
<line x1="419.5" y1="136.3" x2="390.2" y2="176.4" stroke="#0b0b0b" stroke-width="0.70"/>
<line x1="417.5" y1="91.0" x2="405.0" y2="130.0" stroke="#0b0b0b" stroke-width="0.70"/>
<line x1="405.0" y1="130.0" x2="391.4" y2="173.4" stroke="#0b0b0b" stroke-width="0.70"/>
<line x1="489.4" y1="131.2" x2="453.6" y2="151.0" stroke="#0b0b0b" stroke-width="0.90"/>
<line x1="453.6" y1="151.0" x2="392.9" y2="172.6" stroke="#0b0b0b" stroke-width="0.70"/>
<line x1="500.0" y1="138.0" x2="462.0" y2="151.0" stroke="#0b0b0b" stroke-width="0.90"/>
<line x1="462.0" y1="151.0" x2="389.5" y2="175.8" stroke="#0b0b0b" stroke-width="0.70"/>
<line x1="425.0" y1="100.0" x2="400.0" y2="150.0" stroke="#0b0b0b" stroke-width="0.90"/>
<line x1="400.0" y1="150.0" x2="387.9" y2="174.4" stroke="#0b0b0b" stroke-width="0.70"/>
<line x1="366.0" y1="100.0" x2="384.0" y2="150.0" stroke="#0b0b0b" stroke-width="0.90"/>
<line x1="384.0" y1="150.0" x2="387.2" y2="175.3" stroke="#0b0b0b" stroke-width="0.70"/>
<line x1="388.0" y1="95.0" x2="390.0" y2="150.0" stroke="#0b0b0b" stroke-width="0.90"/>
<line x1="390.0" y1="150.0" x2="391.6" y2="174.9" stroke="#0b0b0b" stroke-width="0.70"/>
<line x1="392.3" y1="173.8" x2="410.6" y2="161.3" stroke="#0b0b0b" stroke-width="1.21"/>
<line x1="395.3" y1="172.8" x2="385.3" y2="134.2" stroke="#0b0b0b" stroke-width="1.26"/>
<line x1="391.8" y1="176.9" x2="356.5" y2="160.0" stroke="#0b0b0b" stroke-width="1.38"/>
<line x1="392.0" y1="169.2" x2="375.6" y2="152.2" stroke="#0b0b0b" stroke-width="1.12"/>
<line x1="384.7" y1="175.1" x2="375.8" y2="163.0" stroke="#0b0b0b" stroke-width="0.89"/>
<line x1="394.5" y1="169.6" x2="373.4" y2="153.6" stroke="#0b0b0b" stroke-width="1.11"/>
<line x1="393.8" y1="175.9" x2="395.5" y2="133.0" stroke="#0b0b0b" stroke-width="0.99"/>
<line x1="394.6" y1="176.7" x2="384.3" y2="149.5" stroke="#0b0b0b" stroke-width="0.91"/>
<line x1="386.8" y1="172.9" x2="373.4" y2="160.3" stroke="#0b0b0b" stroke-width="1.21"/>
<line x1="389.0" y1="172.0" x2="381.2" y2="162.7" stroke="#0b0b0b" stroke-width="1.20"/>
<line x1="390.2" y1="173.9" x2="423.7" y2="161.3" stroke="#0b0b0b" stroke-width="1.27"/>
<line x1="393.4" y1="176.0" x2="350.6" y2="158.2" stroke="#0b0b0b" stroke-width="1.36"/>
<line x1="385.2" y1="174.1" x2="382.4" y2="148.7" stroke="#0b0b0b" stroke-width="0.84"/>
<line x1="385.9" y1="171.7" x2="370.6" y2="165.9" stroke="#0b0b0b" stroke-width="0.84"/>
<line x1="385.2" y1="171.9" x2="371.0" y2="169.9" stroke="#0b0b0b" stroke-width="0.82"/>
<line x1="385.8" y1="171.0" x2="418.3" y2="156.0" stroke="#0b0b0b" stroke-width="1.04"/>
<line x1="394.2" y1="176.9" x2="383.5" y2="157.4" stroke="#0b0b0b" stroke-width="1.13"/>
<line x1="385.2" y1="171.7" x2="389.3" y2="157.4" stroke="#0b0b0b" stroke-width="0.99"/>
<line x1="384.3" y1="176.6" x2="405.2" y2="162.0" stroke="#0b0b0b" stroke-width="1.17"/>
<line x1="384.3" y1="173.2" x2="364.6" y2="155.8" stroke="#0b0b0b" stroke-width="1.48"/>
<line x1="387.1" y1="171.9" x2="419.8" y2="153.8" stroke="#0b0b0b" stroke-width="0.92"/>
<line x1="393.3" y1="171.6" x2="410.6" y2="151.1" stroke="#0b0b0b" stroke-width="0.96"/>
<line x1="394.2" y1="175.4" x2="423.2" y2="143.8" stroke="#0b0b0b" stroke-width="1.37"/>
<line x1="390.2" y1="171.8" x2="402.9" y2="157.2" stroke="#0b0b0b" stroke-width="0.82"/>
<line x1="387.1" y1="174.5" x2="367.7" y2="167.2" stroke="#0b0b0b" stroke-width="1.47"/>
<line x1="395.9" y1="176.6" x2="383.9" y2="131.4" stroke="#0b0b0b" stroke-width="1.06"/>
<line x1="386.4" y1="170.6" x2="375.3" y2="158.6" stroke="#0b0b0b" stroke-width="1.24"/>
<line x1="389.8" y1="174.2" x2="425.6" y2="154.5" stroke="#0b0b0b" stroke-width="1.36"/>
<line x1="394.9" y1="175.3" x2="358.6" y2="158.5" stroke="#0b0b0b" stroke-width="1.33"/>
<line x1="393.5" y1="171.7" x2="388.8" y2="154.5" stroke="#0b0b0b" stroke-width="1.36"/>
<line x1="388.8" y1="176.6" x2="415.7" y2="166.0" stroke="#0b0b0b" stroke-width="1.31"/>
<line x1="385.8" y1="176.2" x2="375.6" y2="162.7" stroke="#0b0b0b" stroke-width="1.36"/>
<line x1="395.8" y1="174.3" x2="357.5" y2="150.6" stroke="#0b0b0b" stroke-width="1.05"/>
<line x1="384.2" y1="176.8" x2="392.4" y2="156.1" stroke="#0b0b0b" stroke-width="1.25"/>
<line x1="258.0" y1="88.0" x2="325.0" y2="148.0" stroke="#0b0b0b" stroke-width="0.90"/>
<line x1="300.0" y1="118.0" x2="368.0" y2="168.0" stroke="#0b0b0b" stroke-width="1.40"/>
<line x1="318.0" y1="128.0" x2="372.0" y2="165.0" stroke="#0b0b0b" stroke-width="1.40"/>
<line x1="280.0" y1="100.0" x2="300.0" y2="118.0" stroke="#0b0b0b" stroke-width="0.80"/>
<line x1="410.0" y1="180.0" x2="527.0" y2="171.0" stroke="#0b0b0b" stroke-width="1.00"/>
<line x1="410.0" y1="181.0" x2="527.0" y2="176.0" stroke="#0b0b0b" stroke-width="1.00"/>
<line x1="400.0" y1="178.0" x2="460.0" y2="174.0" stroke="#0b0b0b" stroke-width="1.20"/>
<line x1="405.0" y1="170.0" x2="490.0" y2="132.5" stroke="#0b0b0b" stroke-width="1.20"/>
<line x1="440.0" y1="162.5" x2="512.5" y2="132.5" stroke="#0b0b0b" stroke-width="1.00"/>
<line x1="512.5" y1="132.5" x2="555.0" y2="116.0" stroke="#0b0b0b" stroke-width="0.80"/>
<line x1="400.0" y1="172.0" x2="470.0" y2="140.0" stroke="#0b0b0b" stroke-width="1.40"/>
<line x1="402.0" y1="168.0" x2="445.0" y2="140.0" stroke="#0b0b0b" stroke-width="1.20"/>
<line x1="440.0" y1="160.0" x2="532.0" y2="142.0" stroke="#0b0b0b" stroke-width="0.90"/>
<line x1="400.0" y1="175.0" x2="462.0" y2="164.0" stroke="#0b0b0b" stroke-width="1.60"/>
<line x1="402.0" y1="181.0" x2="470.0" y2="200.0" stroke="#0b0b0b" stroke-width="2.65"/>
<line x1="470.0" y1="200.0" x2="515.0" y2="212.5" stroke="#0b0b0b" stroke-width="1.87"/>
<line x1="515.0" y1="212.5" x2="570.0" y2="217.5" stroke="#0b0b0b" stroke-width="0.70"/>
<line x1="490.0" y1="207.0" x2="570.0" y2="224.0" stroke="#0b0b0b" stroke-width="0.70"/>
<line x1="470.0" y1="199.0" x2="515.0" y2="206.0" stroke="#0b0b0b" stroke-width="0.78"/>
<line x1="470.0" y1="201.0" x2="520.0" y2="222.5" stroke="#0b0b0b" stroke-width="0.94"/>
<line x1="480.0" y1="207.0" x2="532.5" y2="237.5" stroke="#0b0b0b" stroke-width="0.94"/>
<line x1="460.0" y1="198.0" x2="545.0" y2="245.0" stroke="#0b0b0b" stroke-width="1.09"/>
<line x1="404.0" y1="184.0" x2="480.0" y2="254.0" stroke="#0b0b0b" stroke-width="1.25"/>
<line x1="404.0" y1="186.0" x2="445.0" y2="232.5" stroke="#0b0b0b" stroke-width="1.09"/>
<line x1="410.0" y1="190.0" x2="460.0" y2="240.0" stroke="#0b0b0b" stroke-width="0.94"/>
<line x1="400.0" y1="183.0" x2="440.0" y2="254.0" stroke="#0b0b0b" stroke-width="1.09"/>
<line x1="412.0" y1="188.0" x2="500.0" y2="250.0" stroke="#0b0b0b" stroke-width="0.94"/>
<line x1="480.0" y1="254.0" x2="497.0" y2="268.0" stroke="#0b0b0b" stroke-width="0.78"/>
<line x1="420.0" y1="195.0" x2="478.0" y2="228.0" stroke="#0b0b0b" stroke-width="0.78"/>
<polyline points="375.0,181.0 375.0,247.0 388.0,254.0 402.0,247.5 400.0,181.0" fill="none" stroke="#0b0b0b" stroke-width="1.10" stroke-linejoin="round"/>
<polyline points="375.0,229.0 388.0,233.0 401.0,229.0" fill="none" stroke="#0b0b0b" stroke-width="0.90" stroke-linejoin="round"/>
<line x1="388.0" y1="233.0" x2="388.0" y2="254.0" stroke="#0b0b0b" stroke-width="0.62"/>
<line x1="381.0" y1="181.0" x2="381.0" y2="231.0" stroke="#0b0b0b" stroke-width="0.62"/>
<line x1="396.0" y1="181.0" x2="397.0" y2="231.0" stroke="#0b0b0b" stroke-width="0.62"/>
<line x1="404.0" y1="184.0" x2="404.5" y2="254.0" stroke="#0b0b0b" stroke-width="0.70"/>
<line x1="391.4" y1="182.6" x2="350.0" y2="265.0" stroke="#0b0b0b" stroke-width="1.25"/>
<line x1="390.1" y1="182.2" x2="345.0" y2="302.0" stroke="#0b0b0b" stroke-width="0.78"/>
<line x1="395.6" y1="178.3" x2="360.0" y2="240.0" stroke="#0b0b0b" stroke-width="1.09"/>
<line x1="387.5" y1="178.8" x2="355.0" y2="272.0" stroke="#0b0b0b" stroke-width="0.94"/>
<line x1="387.4" y1="180.5" x2="372.0" y2="240.0" stroke="#0b0b0b" stroke-width="1.09"/>
<line x1="387.6" y1="179.5" x2="370.0" y2="267.0" stroke="#0b0b0b" stroke-width="0.78"/>
<line x1="385.8" y1="182.5" x2="406.0" y2="344.0" stroke="#0b0b0b" stroke-width="0.62"/>
<line x1="389.0" y1="179.7" x2="415.0" y2="240.0" stroke="#0b0b0b" stroke-width="1.09"/>
<line x1="392.2" y1="182.4" x2="427.5" y2="295.0" stroke="#0b0b0b" stroke-width="0.78"/>
<line x1="389.9" y1="182.5" x2="420.0" y2="240.0" stroke="#0b0b0b" stroke-width="1.56"/>
<line x1="391.0" y1="180.2" x2="455.0" y2="265.0" stroke="#0b0b0b" stroke-width="1.56"/>
<line x1="391.3" y1="177.1" x2="435.0" y2="240.0" stroke="#0b0b0b" stroke-width="1.09"/>
<line x1="390.2" y1="178.1" x2="470.0" y2="300.0" stroke="#0b0b0b" stroke-width="0.94"/>
<line x1="384.1" y1="181.8" x2="460.0" y2="240.0" stroke="#0b0b0b" stroke-width="0.94"/>
<line x1="386.4" y1="179.8" x2="500.0" y2="250.0" stroke="#0b0b0b" stroke-width="0.78"/>
<line x1="394.2" y1="180.3" x2="432.5" y2="344.0" stroke="#0b0b0b" stroke-width="0.55"/>
<line x1="388.6" y1="180.1" x2="472.5" y2="344.0" stroke="#0b0b0b" stroke-width="0.55"/>
<line x1="391.8" y1="181.7" x2="337.5" y2="344.0" stroke="#0b0b0b" stroke-width="0.55"/>
<line x1="385.5" y1="180.4" x2="365.0" y2="254.0" stroke="#0b0b0b" stroke-width="1.09"/>
<line x1="387.5" y1="178.7" x2="340.0" y2="232.5" stroke="#0b0b0b" stroke-width="1.87"/>
<line x1="394.8" y1="180.0" x2="340.0" y2="254.0" stroke="#0b0b0b" stroke-width="0.94"/>
<line x1="391.9" y1="181.6" x2="445.0" y2="262.0" stroke="#0b0b0b" stroke-width="1.09"/>
<line x1="396.8" y1="179.7" x2="412.0" y2="262.0" stroke="#0b0b0b" stroke-width="0.94"/>
<line x1="392.6" y1="180.0" x2="430.0" y2="270.0" stroke="#0b0b0b" stroke-width="0.78"/>
<line x1="391.2" y1="181.2" x2="385.0" y2="262.0" stroke="#0b0b0b" stroke-width="0.78"/>
<line x1="390.3" y1="180.2" x2="392.0" y2="275.0" stroke="#0b0b0b" stroke-width="0.62"/>
<line x1="351.8" y1="235.5" x2="302.0" y2="297.0" stroke="#0b0b0b" stroke-width="1.09"/>
<line x1="353.6" y1="235.0" x2="310.0" y2="292.0" stroke="#0b0b0b" stroke-width="0.94"/>
<line x1="355.5" y1="230.1" x2="318.0" y2="290.0" stroke="#0b0b0b" stroke-width="1.09"/>
<line x1="352.5" y1="235.5" x2="322.0" y2="296.0" stroke="#0b0b0b" stroke-width="0.78"/>
<line x1="354.7" y1="229.1" x2="326.0" y2="288.0" stroke="#0b0b0b" stroke-width="0.94"/>
<line x1="349.0" y1="231.5" x2="296.0" y2="300.0" stroke="#0b0b0b" stroke-width="0.78"/>
<line x1="348.6" y1="229.9" x2="330.0" y2="292.0" stroke="#0b0b0b" stroke-width="0.78"/>
<line x1="348.6" y1="233.4" x2="267.5" y2="297.5" stroke="#0b0b0b" stroke-width="0.62"/>
<line x1="354.3" y1="235.2" x2="245.0" y2="290.0" stroke="#0b0b0b" stroke-width="0.62"/>
<line x1="349.2" y1="233.7" x2="314.0" y2="300.0" stroke="#0b0b0b" stroke-width="1.25"/>
<line x1="372.0" y1="186.0" x2="352.0" y2="232.0" stroke="#0b0b0b" stroke-width="1.72"/>
<line x1="368.0" y1="190.0" x2="345.0" y2="235.0" stroke="#0b0b0b" stroke-width="1.25"/>
<line x1="375.0" y1="190.0" x2="356.0" y2="236.0" stroke="#0b0b0b" stroke-width="1.09"/>
<line x1="355.0" y1="190.0" x2="300.0" y2="245.0" stroke="#0b0b0b" stroke-width="0.70"/>
<line x1="350.0" y1="196.0" x2="262.0" y2="275.0" stroke="#0b0b0b" stroke-width="0.62"/>
<line x1="32.0" y1="251.2" x2="48.0" y2="251.2" stroke="#222" stroke-width="1.00"/>
<polyline points="926.0,194.0 905.0,197.0 880.0,203.0 870.0,208.0" fill="none" stroke="#0b0b0b" stroke-width="1.40" stroke-linejoin="round"/>
<polyline points="926.0,198.0 906.0,201.0 882.0,207.0 872.0,212.0" fill="none" stroke="#0b0b0b" stroke-width="1.40" stroke-linejoin="round"/>
<polyline points="920.0,190.0 905.0,194.0 880.0,199.0" fill="none" stroke="#0b0b0b" stroke-width="0.90" stroke-linejoin="round"/>
<polyline points="870.0,208.0 860.0,196.0 845.0,195.0" fill="none" stroke="#0b0b0b" stroke-width="1.20" stroke-linejoin="round"/>
<polyline points="872.0,204.0 863.0,193.0 848.0,191.0" fill="none" stroke="#0b0b0b" stroke-width="1.00" stroke-linejoin="round"/>
<line x1="848.0" y1="191.0" x2="838.0" y2="196.0" stroke="#0b0b0b" stroke-width="0.90"/>
<line x1="845.0" y1="195.0" x2="835.0" y2="198.0" stroke="#0b0b0b" stroke-width="0.90"/>
<line x1="858.0" y1="194.0" x2="838.0" y2="190.0" stroke="#0b0b0b" stroke-width="0.80"/>
<line x1="850.0" y1="196.0" x2="833.0" y2="200.0" stroke="#0b0b0b" stroke-width="0.80"/>
<line x1="866.0" y1="208.0" x2="850.0" y2="214.0" stroke="#0b0b0b" stroke-width="1.20"/>
<polyline points="871.0,210.0 862.0,225.0 852.0,240.0 835.0,250.0" fill="none" stroke="#0b0b0b" stroke-width="1.60" stroke-linejoin="round"/>
<polyline points="868.0,209.0 858.0,224.0 848.0,238.0 833.0,246.0" fill="none" stroke="#0b0b0b" stroke-width="1.00" stroke-linejoin="round"/>
<polyline points="852.0,240.0 820.0,268.0 785.0,296.0" fill="none" stroke="#0b0b0b" stroke-width="1.20" stroke-linejoin="round"/>
<polyline points="852.0,240.0 830.0,272.0 805.0,296.0" fill="none" stroke="#0b0b0b" stroke-width="1.20" stroke-linejoin="round"/>
<line x1="852.0" y1="240.0" x2="845.0" y2="272.0" stroke="#0b0b0b" stroke-width="1.00"/>
<line x1="785.0" y1="296.0" x2="770.0" y2="310.0" stroke="#0b0b0b" stroke-width="0.60"/>
<line x1="805.0" y1="296.0" x2="792.0" y2="313.0" stroke="#0b0b0b" stroke-width="0.60"/>
<line x1="873.7" y1="212.0" x2="873.7" y2="228.0" stroke="#0b0b0b" stroke-width="0.90"/>
<polyline points="926.0,194.0 935.0,190.0 945.0,182.0 955.0,170.0 964.0,150.0 970.0,95.0" fill="none" stroke="#0b0b0b" stroke-width="1.60" stroke-linejoin="round"/>
<polyline points="964.0,150.0 971.0,120.0 977.0,95.0" fill="none" stroke="#0b0b0b" stroke-width="1.20" stroke-linejoin="round"/>
<line x1="960.0" y1="160.0" x2="968.0" y2="130.0" stroke="#0b0b0b" stroke-width="2.00"/>
<polyline points="930.0,192.0 945.0,178.0 955.8,167.6 981.0,156.0 1008.5,142.5 1041.0,120.0" fill="none" stroke="#0b0b0b" stroke-width="1.50" stroke-linejoin="round"/>
<line x1="972.0" y1="160.0" x2="1010.0" y2="141.5" stroke="#0b0b0b" stroke-width="2.40"/>
<line x1="986.0" y1="154.6" x2="1010.0" y2="134.0" stroke="#0b0b0b" stroke-width="0.80"/>
<line x1="960.0" y1="166.0" x2="1000.0" y2="150.0" stroke="#0b0b0b" stroke-width="1.00"/>
<polyline points="941.0,183.5 965.0,174.0 988.5,164.0 1021.0,147.5 1073.5,141.0" fill="none" stroke="#0b0b0b" stroke-width="1.30" stroke-linejoin="round"/>
<line x1="958.0" y1="177.0" x2="1021.0" y2="147.5" stroke="#0b0b0b" stroke-width="2.00"/>
<polyline points="932.0,194.0 955.0,182.0 981.0,171.5 1040.0,166.0 1098.5,161.0 1114.0,160.0" fill="none" stroke="#0b0b0b" stroke-width="1.40" stroke-linejoin="round"/>
<line x1="981.0" y1="171.0" x2="1098.5" y2="161.0" stroke="#0b0b0b" stroke-width="2.80"/>
<polyline points="940.0,192.0 965.0,183.0 1000.0,178.0" fill="none" stroke="#0b0b0b" stroke-width="0.90" stroke-linejoin="round"/>
<line x1="962.0" y1="182.0" x2="1000.0" y2="168.0" stroke="#0b0b0b" stroke-width="1.00"/>
<polyline points="869.0,112.5 879.0,130.0 903.7,170.5 921.0,190.0 926.0,196.0" fill="none" stroke="#0b0b0b" stroke-width="1.70" stroke-linejoin="round"/>
<polyline points="884.0,78.0 900.8,130.0 912.5,155.0 926.8,185.0" fill="none" stroke="#0b0b0b" stroke-width="1.00" stroke-linejoin="round"/>
<polyline points="900.8,130.0 912.5,155.0 926.8,185.0 928.0,194.0" fill="none" stroke="#0b0b0b" stroke-width="2.00" stroke-linejoin="round"/>
<line x1="903.7" y1="170.5" x2="917.0" y2="164.7" stroke="#0b0b0b" stroke-width="1.00"/>
<line x1="908.0" y1="178.5" x2="921.0" y2="172.7" stroke="#0b0b0b" stroke-width="1.00"/>
<line x1="913.0" y1="185.0" x2="924.0" y2="180.0" stroke="#0b0b0b" stroke-width="0.90"/>
<line x1="899.0" y1="163.0" x2="912.5" y2="156.0" stroke="#0b0b0b" stroke-width="0.90"/>
<polyline points="905.0,152.0 910.0,166.0 917.0,180.0" fill="none" stroke="#0b0b0b" stroke-width="0.80" stroke-linejoin="round"/>
<polyline points="926.8,185.0 925.0,172.0 922.5,159.0" fill="none" stroke="#0b0b0b" stroke-width="1.60" stroke-linejoin="round"/>
<line x1="922.5" y1="159.0" x2="916.7" y2="138.0" stroke="#0b0b0b" stroke-width="1.00"/>
<line x1="922.5" y1="159.0" x2="925.5" y2="136.0" stroke="#0b0b0b" stroke-width="1.00"/>
<line x1="860.0" y1="164.0" x2="832.5" y2="136.0" stroke="#0b0b0b" stroke-width="1.00"/>
<polyline points="905.0,170.0 915.0,185.0 926.0,194.0" fill="none" stroke="#0b0b0b" stroke-width="1.00" stroke-linejoin="round"/>
<polyline points="900.0,174.0 910.0,190.0 922.0,198.0" fill="none" stroke="#0b0b0b" stroke-width="1.00" stroke-linejoin="round"/>
<line x1="905.0" y1="170.0" x2="900.0" y2="174.0" stroke="#0b0b0b" stroke-width="0.80"/>
<polyline points="930.0,197.0 960.0,196.0 985.0,190.0 1000.0,186.0 1035.0,190.0" fill="none" stroke="#0b0b0b" stroke-width="1.40" stroke-linejoin="round"/>
<line x1="985.0" y1="190.0" x2="1005.0" y2="200.0" stroke="#0b0b0b" stroke-width="1.00"/>
<line x1="960.0" y1="198.0" x2="1000.0" y2="203.0" stroke="#0b0b0b" stroke-width="2.20"/>
<line x1="1000.0" y1="203.0" x2="1040.0" y2="212.0" stroke="#0b0b0b" stroke-width="0.90"/>
<line x1="962.0" y1="199.0" x2="1002.0" y2="211.0" stroke="#0b0b0b" stroke-width="2.00"/>
<line x1="1002.0" y1="211.0" x2="1012.0" y2="225.0" stroke="#0b0b0b" stroke-width="1.00"/>
<line x1="990.0" y1="204.0" x2="1000.0" y2="186.0" stroke="#0b0b0b" stroke-width="0.90"/>
<line x1="975.0" y1="200.0" x2="985.0" y2="190.0" stroke="#0b0b0b" stroke-width="0.90"/>
<line x1="935.0" y1="200.0" x2="975.0" y2="205.0" stroke="#0b0b0b" stroke-width="1.40"/>
<polyline points="930.0,200.0 960.0,228.0 1011.0,270.0 1060.0,315.0 1100.0,350.0 1114.0,362.0" fill="none" stroke="#0b0b0b" stroke-width="1.20" stroke-linejoin="round"/>
<polyline points="934.0,199.0 964.0,225.0 1004.0,262.0" fill="none" stroke="#0b0b0b" stroke-width="1.00" stroke-linejoin="round"/>
<line x1="1004.0" y1="262.0" x2="1100.0" y2="345.0" stroke="#0b0b0b" stroke-width="0.70"/>
<polyline points="928.0,202.0 955.0,232.0 1000.0,275.0 1050.0,322.0 1096.0,364.0 1112.0,372.0" fill="none" stroke="#0b0b0b" stroke-width="1.20" stroke-linejoin="round"/>
<line x1="1100.0" y1="350.0" x2="1106.0" y2="356.0" stroke="#0b0b0b" stroke-width="1.00"/>
<line x1="938.0" y1="222.0" x2="952.0" y2="268.0" stroke="#0b0b0b" stroke-width="1.40"/>
<line x1="938.0" y1="222.0" x2="958.0" y2="262.0" stroke="#0b0b0b" stroke-width="1.00"/>
<line x1="938.0" y1="222.0" x2="965.0" y2="270.0" stroke="#0b0b0b" stroke-width="1.20"/>
<line x1="938.0" y1="222.0" x2="975.0" y2="272.0" stroke="#0b0b0b" stroke-width="1.00"/>
<line x1="938.0" y1="222.0" x2="985.0" y2="280.0" stroke="#0b0b0b" stroke-width="0.90"/>
<line x1="938.0" y1="222.0" x2="948.0" y2="255.0" stroke="#0b0b0b" stroke-width="1.20"/>
<line x1="938.0" y1="222.0" x2="945.0" y2="250.0" stroke="#0b0b0b" stroke-width="1.00"/>
<line x1="938.0" y1="222.0" x2="960.0" y2="255.0" stroke="#0b0b0b" stroke-width="1.00"/>
<line x1="930.0" y1="200.0" x2="940.0" y2="232.0" stroke="#0b0b0b" stroke-width="1.60"/>
<line x1="926.0" y1="202.0" x2="936.0" y2="228.0" stroke="#0b0b0b" stroke-width="1.20"/>
<line x1="916.0" y1="205.0" x2="917.0" y2="262.0" stroke="#0b0b0b" stroke-width="0.80"/>
<line x1="926.0" y1="205.0" x2="931.0" y2="290.0" stroke="#0b0b0b" stroke-width="0.80"/>
<line x1="922.0" y1="200.0" x2="913.0" y2="240.0" stroke="#0b0b0b" stroke-width="0.80"/>
<line x1="920.0" y1="205.0" x2="920.0" y2="240.0" stroke="#0b0b0b" stroke-width="0.80"/>
<line x1="643.0" y1="357.7" x2="666.0" y2="357.7" stroke="#222" stroke-width="1.00"/>
<line x1="703.0" y1="208.0" x2="709.5" y2="208.0" stroke="#1a5ae0" stroke-width="1.40"/>
<line x1="711.0" y1="265.0" x2="717.0" y2="265.0" stroke="#1a5ae0" stroke-width="1.40"/>
<line x1="714.0" y1="277.0" x2="720.0" y2="277.0" stroke="#a0208c" stroke-width="1.40"/>
<line x1="721.0" y1="131.0" x2="725.0" y2="136.0" stroke="#a0208c" stroke-width="1.40"/>
<line x1="799.0" y1="117.0" x2="803.0" y2="123.0" stroke="#a0208c" stroke-width="1.40"/>
<line x1="824.0" y1="367.0" x2="825.0" y2="359.0" stroke="#111" stroke-width="1.60"/>
<line x1="842.0" y1="368.0" x2="842.0" y2="361.0" stroke="#9a2090" stroke-width="1.60"/>
<line x1="1003.0" y1="51.0" x2="1002.0" y2="56.0" stroke="#e06030" stroke-width="1.20"/>
<line x1="1008.0" y1="51.0" x2="1007.0" y2="56.0" stroke="#e06030" stroke-width="1.20"/>
<line x1="592.5" y1="209.5" x2="598.0" y2="209.5" stroke="#111" stroke-width="1.60"/>
<line x1="574.7" y1="270.8" x2="578.2" y2="269.0" stroke="#b020a0" stroke-width="1.50"/>
<line x1="577.3" y1="265.7" x2="580.8" y2="263.9" stroke="#b020a0" stroke-width="1.50"/>
<line x1="580.8" y1="260.7" x2="584.3" y2="258.9" stroke="#b020a0" stroke-width="1.50"/>
<line x1="583.3" y1="255.6" x2="586.8" y2="253.8" stroke="#b020a0" stroke-width="1.50"/>
<line x1="527.0" y1="296.0" x2="531.0" y2="298.5" stroke="#b020a0" stroke-width="1.50"/>
<line x1="305.7" y1="68.3" x2="296.4" y2="56.5" stroke="#14202a" stroke-width="1.25" stroke-dasharray="2.0 0.55" opacity="0.72"/>
<line x1="307.6" y1="66.8" x2="298.5" y2="54.9" stroke="#14202a" stroke-width="1.25" stroke-dasharray="2.0 0.55" opacity="0.72"/>
<line x1="309.5" y1="65.4" x2="300.6" y2="53.3" stroke="#14202a" stroke-width="1.25" stroke-dasharray="2.0 0.55" opacity="0.72"/>
<line x1="311.4" y1="64.0" x2="302.7" y2="51.8" stroke="#14202a" stroke-width="1.25" stroke-dasharray="2.0 0.55" opacity="0.72"/>
<line x1="313.3" y1="62.7" x2="304.9" y2="50.3" stroke="#14202a" stroke-width="1.25" stroke-dasharray="2.0 0.55" opacity="0.72"/>
<line x1="315.3" y1="61.4" x2="307.0" y2="48.8" stroke="#14202a" stroke-width="1.25" stroke-dasharray="2.0 0.55" opacity="0.72"/>
<line x1="317.3" y1="60.1" x2="309.2" y2="47.4" stroke="#14202a" stroke-width="1.25" stroke-dasharray="2.0 0.55" opacity="0.72"/>
<line x1="319.3" y1="58.8" x2="311.5" y2="46.0" stroke="#14202a" stroke-width="1.25" stroke-dasharray="2.0 0.55" opacity="0.72"/>
<line x1="321.3" y1="57.6" x2="313.7" y2="44.7" stroke="#14202a" stroke-width="1.25" stroke-dasharray="2.0 0.55" opacity="0.72"/>
<line x1="323.3" y1="56.5" x2="316.0" y2="43.4" stroke="#14202a" stroke-width="1.25" stroke-dasharray="2.0 0.55" opacity="0.72"/>
<line x1="325.4" y1="55.3" x2="318.3" y2="42.1" stroke="#14202a" stroke-width="1.25" stroke-dasharray="2.0 0.55" opacity="0.72"/>
<line x1="327.5" y1="54.2" x2="320.6" y2="40.9" stroke="#14202a" stroke-width="1.25" stroke-dasharray="2.0 0.55" opacity="0.72"/>
<line x1="329.6" y1="53.2" x2="322.9" y2="39.7" stroke="#14202a" stroke-width="1.25" stroke-dasharray="2.0 0.55" opacity="0.72"/>
<line x1="331.7" y1="52.1" x2="325.3" y2="38.6" stroke="#14202a" stroke-width="1.25" stroke-dasharray="2.0 0.55" opacity="0.72"/>
<line x1="333.8" y1="51.1" x2="327.7" y2="37.5" stroke="#14202a" stroke-width="1.25" stroke-dasharray="2.0 0.55" opacity="0.72"/>
<line x1="336.0" y1="50.2" x2="330.0" y2="36.4" stroke="#14202a" stroke-width="1.25" stroke-dasharray="2.0 0.55" opacity="0.72"/>
<line x1="338.2" y1="49.3" x2="332.5" y2="35.4" stroke="#14202a" stroke-width="1.25" stroke-dasharray="2.0 0.55" opacity="0.72"/>
<line x1="345.5" y1="56.0" x2="338.5" y2="37.3" stroke="#14202a" stroke-width="1.25" stroke-dasharray="2.0 0.55" opacity="0.72"/>
<line x1="347.3" y1="55.4" x2="340.6" y2="36.5" stroke="#14202a" stroke-width="1.25" stroke-dasharray="2.0 0.55" opacity="0.72"/>
<line x1="349.2" y1="54.7" x2="342.7" y2="35.8" stroke="#14202a" stroke-width="1.25" stroke-dasharray="2.0 0.55" opacity="0.72"/>
<line x1="351.0" y1="54.1" x2="344.9" y2="35.1" stroke="#14202a" stroke-width="1.25" stroke-dasharray="2.0 0.55" opacity="0.72"/>
<line x1="352.9" y1="53.5" x2="347.0" y2="34.4" stroke="#14202a" stroke-width="1.25" stroke-dasharray="2.0 0.55" opacity="0.72"/>
<line x1="356.6" y1="58.7" x2="347.6" y2="27.0" stroke="#400808" stroke-width="1.25" stroke-dasharray="2.0 0.55" opacity="0.72"/>
<line x1="359.1" y1="58.0" x2="350.7" y2="26.1" stroke="#400808" stroke-width="1.25" stroke-dasharray="2.0 0.55" opacity="0.72"/>
<line x1="361.5" y1="57.4" x2="353.8" y2="25.3" stroke="#400808" stroke-width="1.25" stroke-dasharray="2.0 0.55" opacity="0.72"/>
<line x1="364.0" y1="56.8" x2="356.9" y2="24.6" stroke="#400808" stroke-width="1.25" stroke-dasharray="2.0 0.55" opacity="0.72"/>
<line x1="366.5" y1="56.3" x2="360.1" y2="23.9" stroke="#400808" stroke-width="1.25" stroke-dasharray="2.0 0.55" opacity="0.72"/>
<line x1="369.0" y1="55.8" x2="363.3" y2="23.3" stroke="#400808" stroke-width="1.25" stroke-dasharray="2.0 0.55" opacity="0.72"/>
<line x1="369.4" y1="44.6" x2="366.2" y2="24.9" stroke="#14202a" stroke-width="1.25" stroke-dasharray="2.0 0.55" opacity="0.72"/>
<line x1="371.8" y1="44.3" x2="369.0" y2="24.5" stroke="#14202a" stroke-width="1.25" stroke-dasharray="2.0 0.55" opacity="0.72"/>
<line x1="374.2" y1="44.0" x2="371.8" y2="24.1" stroke="#14202a" stroke-width="1.25" stroke-dasharray="2.0 0.55" opacity="0.72"/>
<line x1="376.6" y1="43.7" x2="374.6" y2="23.8" stroke="#14202a" stroke-width="1.25" stroke-dasharray="2.0 0.55" opacity="0.72"/>
<line x1="379.0" y1="43.5" x2="377.4" y2="23.5" stroke="#14202a" stroke-width="1.25" stroke-dasharray="2.0 0.55" opacity="0.72"/>
<line x1="381.5" y1="43.3" x2="380.2" y2="23.3" stroke="#14202a" stroke-width="1.25" stroke-dasharray="2.0 0.55" opacity="0.72"/>
<line x1="387.4" y1="52.0" x2="387.0" y2="30.0" stroke="#14202a" stroke-width="1.25" stroke-dasharray="2.0 0.55" opacity="0.72"/>
<line x1="389.9" y1="52.0" x2="389.9" y2="30.0" stroke="#14202a" stroke-width="1.25" stroke-dasharray="2.0 0.55" opacity="0.72"/>
<line x1="392.4" y1="52.0" x2="392.8" y2="30.0" stroke="#14202a" stroke-width="1.25" stroke-dasharray="2.0 0.55" opacity="0.72"/>
<line x1="394.9" y1="52.1" x2="395.7" y2="30.1" stroke="#14202a" stroke-width="1.25" stroke-dasharray="2.0 0.55" opacity="0.72"/>
<line x1="397.3" y1="52.2" x2="398.6" y2="30.3" stroke="#14202a" stroke-width="1.25" stroke-dasharray="2.0 0.55" opacity="0.72"/>
<line x1="399.8" y1="52.4" x2="401.5" y2="30.5" stroke="#14202a" stroke-width="1.25" stroke-dasharray="2.0 0.55" opacity="0.72"/>
<line x1="402.3" y1="52.6" x2="404.5" y2="30.7" stroke="#14202a" stroke-width="1.25" stroke-dasharray="2.0 0.55" opacity="0.72"/>
<line x1="404.7" y1="52.9" x2="407.4" y2="31.0" stroke="#14202a" stroke-width="1.25" stroke-dasharray="2.0 0.55" opacity="0.72"/>
<line x1="407.2" y1="53.2" x2="410.2" y2="31.4" stroke="#14202a" stroke-width="1.25" stroke-dasharray="2.0 0.55" opacity="0.72"/>
<line x1="409.6" y1="53.6" x2="413.1" y2="31.9" stroke="#14202a" stroke-width="1.25" stroke-dasharray="2.0 0.55" opacity="0.72"/>
<line x1="412.1" y1="54.0" x2="416.0" y2="32.4" stroke="#14202a" stroke-width="1.25" stroke-dasharray="2.0 0.55" opacity="0.72"/>
<line x1="414.5" y1="54.5" x2="418.9" y2="32.9" stroke="#14202a" stroke-width="1.25" stroke-dasharray="2.0 0.55" opacity="0.72"/>
<line x1="416.9" y1="55.0" x2="421.7" y2="33.5" stroke="#14202a" stroke-width="1.25" stroke-dasharray="2.0 0.55" opacity="0.72"/>
<line x1="419.3" y1="55.5" x2="424.6" y2="34.2" stroke="#14202a" stroke-width="1.25" stroke-dasharray="2.0 0.55" opacity="0.72"/>
<line x1="421.7" y1="56.2" x2="427.4" y2="34.9" stroke="#14202a" stroke-width="1.25" stroke-dasharray="2.0 0.55" opacity="0.72"/>
<line x1="424.1" y1="56.8" x2="430.2" y2="35.7" stroke="#14202a" stroke-width="1.25" stroke-dasharray="2.0 0.55" opacity="0.72"/>
<line x1="408.0" y1="30.1" x2="411.1" y2="5.3" stroke="#14202a" stroke-width="1.25" stroke-dasharray="2.0 0.55" opacity="0.72"/>
<line x1="415.1" y1="31.2" x2="419.4" y2="6.6" stroke="#14202a" stroke-width="1.25" stroke-dasharray="2.0 0.55" opacity="0.72"/>
<line x1="422.2" y1="32.6" x2="427.7" y2="8.2" stroke="#14202a" stroke-width="1.25" stroke-dasharray="2.0 0.55" opacity="0.72"/>
<line x1="429.1" y1="34.3" x2="435.8" y2="10.3" stroke="#14202a" stroke-width="1.25" stroke-dasharray="2.0 0.55" opacity="0.72"/>
<line x1="436.0" y1="36.4" x2="443.9" y2="12.7" stroke="#14202a" stroke-width="1.25" stroke-dasharray="2.0 0.55" opacity="0.72"/>
<line x1="442.8" y1="38.9" x2="451.8" y2="15.6" stroke="#14202a" stroke-width="1.25" stroke-dasharray="2.0 0.55" opacity="0.72"/>
<line x1="449.4" y1="41.6" x2="459.6" y2="18.8" stroke="#14202a" stroke-width="1.25" stroke-dasharray="2.0 0.55" opacity="0.72"/>
<line x1="426.4" y1="59.6" x2="432.1" y2="41.5" stroke="#14202a" stroke-width="1.25" stroke-dasharray="2.0 0.55" opacity="0.72"/>
<line x1="428.5" y1="60.3" x2="434.6" y2="42.3" stroke="#14202a" stroke-width="1.25" stroke-dasharray="2.0 0.55" opacity="0.72"/>
<line x1="430.7" y1="61.0" x2="437.1" y2="43.1" stroke="#14202a" stroke-width="1.25" stroke-dasharray="2.0 0.55" opacity="0.72"/>
<line x1="432.8" y1="61.8" x2="439.5" y2="44.1" stroke="#14202a" stroke-width="1.25" stroke-dasharray="2.0 0.55" opacity="0.72"/>
<line x1="434.9" y1="62.6" x2="442.0" y2="45.0" stroke="#14202a" stroke-width="1.25" stroke-dasharray="2.0 0.55" opacity="0.72"/>
<line x1="437.0" y1="63.5" x2="444.4" y2="46.0" stroke="#14202a" stroke-width="1.25" stroke-dasharray="2.0 0.55" opacity="0.72"/>
<line x1="439.1" y1="64.4" x2="446.8" y2="47.0" stroke="#14202a" stroke-width="1.25" stroke-dasharray="2.0 0.55" opacity="0.72"/>
<line x1="441.1" y1="65.3" x2="449.2" y2="48.1" stroke="#14202a" stroke-width="1.25" stroke-dasharray="2.0 0.55" opacity="0.72"/>
<line x1="440.2" y1="64.9" x2="446.4" y2="51.2" stroke="#14202a" stroke-width="1.25" stroke-dasharray="2.0 0.55" opacity="0.72"/>
<line x1="442.5" y1="66.0" x2="449.0" y2="52.5" stroke="#14202a" stroke-width="1.25" stroke-dasharray="2.0 0.55" opacity="0.72"/>
<line x1="444.8" y1="67.1" x2="451.6" y2="53.7" stroke="#14202a" stroke-width="1.25" stroke-dasharray="2.0 0.55" opacity="0.72"/>
<line x1="447.1" y1="68.3" x2="454.1" y2="55.1" stroke="#14202a" stroke-width="1.25" stroke-dasharray="2.0 0.55" opacity="0.72"/>
<line x1="449.3" y1="69.5" x2="456.7" y2="56.5" stroke="#14202a" stroke-width="1.25" stroke-dasharray="2.0 0.55" opacity="0.72"/>
<line x1="451.5" y1="70.8" x2="459.2" y2="57.9" stroke="#14202a" stroke-width="1.25" stroke-dasharray="2.0 0.55" opacity="0.72"/>
<line x1="453.7" y1="72.1" x2="461.6" y2="59.4" stroke="#14202a" stroke-width="1.25" stroke-dasharray="2.0 0.55" opacity="0.72"/>
<line x1="455.9" y1="73.5" x2="464.1" y2="60.9" stroke="#14202a" stroke-width="1.25" stroke-dasharray="2.0 0.55" opacity="0.72"/>
<line x1="461.5" y1="60.5" x2="473.2" y2="41.9" stroke="#14202a" stroke-width="1.25" stroke-dasharray="2.0 0.55" opacity="0.72"/>
<line x1="463.6" y1="61.8" x2="475.6" y2="43.4" stroke="#14202a" stroke-width="1.25" stroke-dasharray="2.0 0.55" opacity="0.72"/>
<line x1="465.7" y1="63.2" x2="478.0" y2="45.0" stroke="#14202a" stroke-width="1.25" stroke-dasharray="2.0 0.55" opacity="0.72"/>
<line x1="467.7" y1="64.6" x2="480.4" y2="46.6" stroke="#14202a" stroke-width="1.25" stroke-dasharray="2.0 0.55" opacity="0.72"/>
<line x1="469.7" y1="66.1" x2="482.7" y2="48.3" stroke="#14202a" stroke-width="1.25" stroke-dasharray="2.0 0.55" opacity="0.72"/>
<line x1="471.7" y1="67.5" x2="485.0" y2="50.0" stroke="#14202a" stroke-width="1.25" stroke-dasharray="2.0 0.55" opacity="0.72"/>
<line x1="473.7" y1="69.1" x2="487.3" y2="51.8" stroke="#14202a" stroke-width="1.25" stroke-dasharray="2.0 0.55" opacity="0.72"/>
<line x1="472.1" y1="75.5" x2="481.0" y2="64.7" stroke="#14202a" stroke-width="1.25" stroke-dasharray="2.0 0.55" opacity="0.72"/>
<line x1="473.9" y1="77.1" x2="483.1" y2="66.4" stroke="#14202a" stroke-width="1.25" stroke-dasharray="2.0 0.55" opacity="0.72"/>
<line x1="475.8" y1="78.7" x2="485.1" y2="68.2" stroke="#14202a" stroke-width="1.25" stroke-dasharray="2.0 0.55" opacity="0.72"/>
<line x1="477.6" y1="80.3" x2="487.2" y2="70.1" stroke="#14202a" stroke-width="1.25" stroke-dasharray="2.0 0.55" opacity="0.72"/>
<line x1="479.4" y1="82.0" x2="489.2" y2="72.0" stroke="#14202a" stroke-width="1.25" stroke-dasharray="2.0 0.55" opacity="0.72"/>
<line x1="481.2" y1="83.8" x2="491.1" y2="73.9" stroke="#14202a" stroke-width="1.25" stroke-dasharray="2.0 0.55" opacity="0.72"/>
<line x1="483.6" y1="89.2" x2="499.9" y2="74.3" stroke="#14202a" stroke-width="1.25" stroke-dasharray="2.0 0.55" opacity="0.72"/>
<line x1="486.2" y1="92.1" x2="502.9" y2="77.7" stroke="#14202a" stroke-width="1.25" stroke-dasharray="2.0 0.55" opacity="0.72"/>
<line x1="488.7" y1="95.1" x2="505.8" y2="81.2" stroke="#14202a" stroke-width="1.25" stroke-dasharray="2.0 0.55" opacity="0.72"/>
<line x1="494.0" y1="93.7" x2="509.8" y2="81.4" stroke="#14202a" stroke-width="1.25" stroke-dasharray="2.0 0.55" opacity="0.72"/>
<line x1="496.0" y1="96.4" x2="512.1" y2="84.4" stroke="#14202a" stroke-width="1.25" stroke-dasharray="2.0 0.55" opacity="0.72"/>
<line x1="497.9" y1="99.0" x2="514.3" y2="87.5" stroke="#14202a" stroke-width="1.25" stroke-dasharray="2.0 0.55" opacity="0.72"/>
<line x1="499.8" y1="101.7" x2="516.4" y2="90.6" stroke="#14202a" stroke-width="1.25" stroke-dasharray="2.0 0.55" opacity="0.72"/>
<line x1="501.6" y1="104.5" x2="518.5" y2="93.8" stroke="#14202a" stroke-width="1.25" stroke-dasharray="2.0 0.55" opacity="0.72"/>
<line x1="503.3" y1="107.3" x2="520.5" y2="97.0" stroke="#14202a" stroke-width="1.25" stroke-dasharray="2.0 0.55" opacity="0.72"/>
<line x1="505.0" y1="110.1" x2="522.4" y2="100.3" stroke="#14202a" stroke-width="1.25" stroke-dasharray="2.0 0.55" opacity="0.72"/>
<line x1="506.5" y1="113.0" x2="524.2" y2="103.6" stroke="#14202a" stroke-width="1.25" stroke-dasharray="2.0 0.55" opacity="0.72"/>
<line x1="511.2" y1="113.3" x2="530.8" y2="103.3" stroke="#14202a" stroke-width="1.25" stroke-dasharray="2.0 0.55" opacity="0.72"/>
<line x1="513.3" y1="117.5" x2="533.2" y2="108.2" stroke="#14202a" stroke-width="1.25" stroke-dasharray="2.0 0.55" opacity="0.72"/>
<line x1="515.2" y1="121.9" x2="535.4" y2="113.3" stroke="#14202a" stroke-width="1.25" stroke-dasharray="2.0 0.55" opacity="0.72"/>
<line x1="550.8" y1="103.4" x2="570.9" y2="94.5" stroke="#14202a" stroke-width="1.25" stroke-dasharray="2.0 0.55" opacity="0.72"/>
<line x1="553.4" y1="109.5" x2="573.8" y2="101.4" stroke="#14202a" stroke-width="1.25" stroke-dasharray="2.0 0.55" opacity="0.72"/>
<line x1="555.7" y1="115.8" x2="576.4" y2="108.4" stroke="#14202a" stroke-width="1.25" stroke-dasharray="2.0 0.55" opacity="0.72"/>
<line x1="557.9" y1="122.1" x2="578.8" y2="115.5" stroke="#14202a" stroke-width="1.25" stroke-dasharray="2.0 0.55" opacity="0.72"/>
<line x1="522.7" y1="137.0" x2="543.8" y2="130.9" stroke="#14202a" stroke-width="1.25" stroke-dasharray="2.0 0.55" opacity="0.72"/>
<line x1="523.6" y1="140.4" x2="544.9" y2="134.9" stroke="#14202a" stroke-width="1.25" stroke-dasharray="2.0 0.55" opacity="0.72"/>
<line x1="524.5" y1="144.0" x2="545.9" y2="139.0" stroke="#14202a" stroke-width="1.25" stroke-dasharray="2.0 0.55" opacity="0.72"/>
<line x1="525.2" y1="147.5" x2="546.8" y2="143.1" stroke="#14202a" stroke-width="1.25" stroke-dasharray="2.0 0.55" opacity="0.72"/>
<line x1="525.9" y1="151.0" x2="547.6" y2="147.2" stroke="#14202a" stroke-width="1.25" stroke-dasharray="2.0 0.55" opacity="0.72"/>
<line x1="527.5" y1="154.5" x2="549.2" y2="151.2" stroke="#14202a" stroke-width="1.25" stroke-dasharray="2.0 0.55" opacity="0.72"/>
<line x1="528.0" y1="158.1" x2="549.8" y2="155.4" stroke="#14202a" stroke-width="1.25" stroke-dasharray="2.0 0.55" opacity="0.72"/>
<line x1="528.4" y1="161.7" x2="550.3" y2="159.6" stroke="#14202a" stroke-width="1.25" stroke-dasharray="2.0 0.55" opacity="0.72"/>
<line x1="528.7" y1="165.3" x2="550.6" y2="163.8" stroke="#14202a" stroke-width="1.25" stroke-dasharray="2.0 0.55" opacity="0.72"/>
<line x1="287.6" y1="79.5" x2="277.4" y2="70.0" stroke="#14202a" stroke-width="1.25" stroke-dasharray="2.0 0.55" opacity="0.72"/>
<line x1="290.1" y1="76.9" x2="280.2" y2="67.1" stroke="#14202a" stroke-width="1.25" stroke-dasharray="2.0 0.55" opacity="0.72"/>
<line x1="292.7" y1="74.3" x2="283.0" y2="64.2" stroke="#14202a" stroke-width="1.25" stroke-dasharray="2.0 0.55" opacity="0.72"/>
<line x1="272.6" y1="81.6" x2="261.7" y2="72.9" stroke="#14202a" stroke-width="1.25" stroke-dasharray="2.0 0.55" opacity="0.72"/>
<line x1="277.7" y1="75.6" x2="267.2" y2="66.3" stroke="#14202a" stroke-width="1.25" stroke-dasharray="2.0 0.55" opacity="0.72"/>
<line x1="528.0" y1="170.5" x2="555.0" y2="170.5" stroke="#14202a" stroke-width="1.25" stroke-dasharray="2.0 0.55" opacity="0.72"/>
<line x1="528.0" y1="175.5" x2="555.0" y2="175.5" stroke="#14202a" stroke-width="1.25" stroke-dasharray="2.0 0.55" opacity="0.72"/>
<line x1="573.0" y1="203.0" x2="590.8" y2="205.5" stroke="#14202a" stroke-width="1.25" stroke-dasharray="2.0 0.55" opacity="0.72"/>
<line x1="572.1" y1="206.2" x2="589.8" y2="209.2" stroke="#14202a" stroke-width="1.25" stroke-dasharray="2.0 0.55" opacity="0.72"/>
<line x1="571.0" y1="209.4" x2="588.7" y2="212.8" stroke="#14202a" stroke-width="1.25" stroke-dasharray="2.0 0.55" opacity="0.72"/>
<line x1="569.9" y1="212.6" x2="587.5" y2="216.5" stroke="#14202a" stroke-width="1.25" stroke-dasharray="2.0 0.55" opacity="0.72"/>
<line x1="568.8" y1="215.8" x2="586.2" y2="220.2" stroke="#14202a" stroke-width="1.25" stroke-dasharray="2.0 0.55" opacity="0.72"/>
<line x1="567.5" y1="219.0" x2="584.8" y2="223.8" stroke="#14202a" stroke-width="1.25" stroke-dasharray="2.0 0.55" opacity="0.72"/>
<line x1="566.2" y1="222.2" x2="583.4" y2="227.5" stroke="#14202a" stroke-width="1.25" stroke-dasharray="2.0 0.55" opacity="0.72"/>
<line x1="564.7" y1="225.4" x2="581.8" y2="231.1" stroke="#14202a" stroke-width="1.25" stroke-dasharray="2.0 0.55" opacity="0.72"/>
<line x1="563.2" y1="228.6" x2="580.2" y2="234.8" stroke="#14202a" stroke-width="1.25" stroke-dasharray="2.0 0.55" opacity="0.72"/>
<line x1="561.7" y1="231.8" x2="578.4" y2="238.4" stroke="#14202a" stroke-width="1.25" stroke-dasharray="2.0 0.55" opacity="0.72"/>
<line x1="560.0" y1="235.0" x2="576.6" y2="242.0" stroke="#14202a" stroke-width="1.25" stroke-dasharray="2.0 0.55" opacity="0.72"/>
<line x1="558.3" y1="238.2" x2="574.6" y2="245.7" stroke="#14202a" stroke-width="1.25" stroke-dasharray="2.0 0.55" opacity="0.72"/>
<line x1="556.4" y1="241.4" x2="572.6" y2="249.3" stroke="#14202a" stroke-width="1.25" stroke-dasharray="2.0 0.55" opacity="0.72"/>
<line x1="554.5" y1="244.6" x2="570.5" y2="252.9" stroke="#14202a" stroke-width="1.25" stroke-dasharray="2.0 0.55" opacity="0.72"/>
<line x1="552.6" y1="247.8" x2="568.3" y2="256.5" stroke="#14202a" stroke-width="1.25" stroke-dasharray="2.0 0.55" opacity="0.72"/>
<line x1="550.5" y1="251.0" x2="566.0" y2="260.1" stroke="#14202a" stroke-width="1.25" stroke-dasharray="2.0 0.55" opacity="0.72"/>
<line x1="548.4" y1="254.2" x2="563.6" y2="263.7" stroke="#14202a" stroke-width="1.25" stroke-dasharray="2.0 0.55" opacity="0.72"/>
<line x1="546.1" y1="257.4" x2="561.1" y2="267.3" stroke="#14202a" stroke-width="1.25" stroke-dasharray="2.0 0.55" opacity="0.72"/>
<line x1="552.0" y1="262.0" x2="564.1" y2="269.0" stroke="#14202a" stroke-width="1.25" stroke-dasharray="2.0 0.55" opacity="0.72"/>
<line x1="548.0" y1="267.0" x2="560.1" y2="274.0" stroke="#14202a" stroke-width="1.25" stroke-dasharray="2.0 0.55" opacity="0.72"/>
<line x1="544.0" y1="272.0" x2="556.1" y2="279.0" stroke="#14202a" stroke-width="1.25" stroke-dasharray="2.0 0.55" opacity="0.72"/>
<line x1="540.0" y1="277.0" x2="552.1" y2="284.0" stroke="#14202a" stroke-width="1.25" stroke-dasharray="2.0 0.55" opacity="0.72"/>
<line x1="333.9" y1="335.5" x2="328.0" y2="352.5" stroke="#14202a" stroke-width="1.25" stroke-dasharray="2.0 0.55" opacity="0.72"/>
<line x1="337.6" y1="335.4" x2="332.0" y2="352.5" stroke="#14202a" stroke-width="1.25" stroke-dasharray="2.0 0.55" opacity="0.72"/>
<line x1="341.7" y1="335.3" x2="336.5" y2="352.5" stroke="#14202a" stroke-width="1.25" stroke-dasharray="2.0 0.55" opacity="0.72"/>
<line x1="345.8" y1="335.1" x2="341.0" y2="352.5" stroke="#14202a" stroke-width="1.25" stroke-dasharray="2.0 0.55" opacity="0.72"/>
<line x1="357.9" y1="335.4" x2="354.0" y2="355.0" stroke="#14202a" stroke-width="1.25" stroke-dasharray="2.0 0.55" opacity="0.72"/>
<line x1="361.1" y1="335.3" x2="357.5" y2="355.0" stroke="#14202a" stroke-width="1.25" stroke-dasharray="2.0 0.55" opacity="0.72"/>
<line x1="364.2" y1="335.3" x2="361.0" y2="355.0" stroke="#14202a" stroke-width="1.25" stroke-dasharray="2.0 0.55" opacity="0.72"/>
<line x1="367.3" y1="335.2" x2="364.5" y2="355.0" stroke="#14202a" stroke-width="1.25" stroke-dasharray="2.0 0.55" opacity="0.72"/>
<line x1="378.9" y1="335.0" x2="377.5" y2="356.0" stroke="#14202a" stroke-width="1.25" stroke-dasharray="2.0 0.55" opacity="0.72"/>
<line x1="382.9" y1="335.0" x2="382.0" y2="356.0" stroke="#14202a" stroke-width="1.25" stroke-dasharray="2.0 0.55" opacity="0.72"/>
<line x1="399.4" y1="332.5" x2="401.0" y2="358.5" stroke="#14202a" stroke-width="1.25" stroke-dasharray="2.0 0.55" opacity="0.72"/>
<line x1="402.5" y1="332.6" x2="404.5" y2="358.5" stroke="#14202a" stroke-width="1.25" stroke-dasharray="2.0 0.55" opacity="0.72"/>
<line x1="405.5" y1="332.6" x2="408.0" y2="358.5" stroke="#14202a" stroke-width="1.25" stroke-dasharray="2.0 0.55" opacity="0.72"/>
<line x1="408.5" y1="332.7" x2="411.5" y2="358.5" stroke="#14202a" stroke-width="1.25" stroke-dasharray="2.0 0.55" opacity="0.72"/>
<line x1="412.9" y1="335.4" x2="418.5" y2="375.0" stroke="#14202a" stroke-width="1.25" stroke-dasharray="2.0 0.55" opacity="0.72"/>
<line x1="424.2" y1="334.9" x2="428.0" y2="352.5" stroke="#14202a" stroke-width="1.25" stroke-dasharray="2.0 0.55" opacity="0.72"/>
<line x1="427.4" y1="335.0" x2="431.5" y2="352.5" stroke="#14202a" stroke-width="1.25" stroke-dasharray="2.0 0.55" opacity="0.72"/>
<line x1="430.6" y1="335.1" x2="435.0" y2="352.5" stroke="#14202a" stroke-width="1.25" stroke-dasharray="2.0 0.55" opacity="0.72"/>
<line x1="433.7" y1="335.3" x2="440.0" y2="358.5" stroke="#14202a" stroke-width="1.25" stroke-dasharray="2.0 0.55" opacity="0.72"/>
<line x1="449.4" y1="335.0" x2="455.0" y2="350.0" stroke="#14202a" stroke-width="1.25" stroke-dasharray="2.0 0.55" opacity="0.72"/>
<line x1="453.1" y1="335.1" x2="459.0" y2="350.0" stroke="#14202a" stroke-width="1.25" stroke-dasharray="2.0 0.55" opacity="0.72"/>
<line x1="462.8" y1="341.0" x2="470.0" y2="357.5" stroke="#14202a" stroke-width="1.25" stroke-dasharray="2.0 0.55" opacity="0.72"/>
<line x1="474.2" y1="347.0" x2="483.0" y2="365.0" stroke="#14202a" stroke-width="1.25" stroke-dasharray="2.0 0.55" opacity="0.72"/>
<line x1="477.0" y1="347.1" x2="486.0" y2="365.0" stroke="#14202a" stroke-width="1.25" stroke-dasharray="2.0 0.55" opacity="0.72"/>
<line x1="490.7" y1="343.1" x2="500.0" y2="358.5" stroke="#14202a" stroke-width="1.25" stroke-dasharray="2.0 0.55" opacity="0.72"/>
<line x1="493.6" y1="343.2" x2="503.0" y2="358.5" stroke="#14202a" stroke-width="1.25" stroke-dasharray="2.0 0.55" opacity="0.72"/>
<line x1="506.2" y1="330.6" x2="517.0" y2="345.0" stroke="#14202a" stroke-width="1.25" stroke-dasharray="2.0 0.55" opacity="0.72"/>
<line x1="510.0" y1="330.7" x2="521.0" y2="345.0" stroke="#14202a" stroke-width="1.25" stroke-dasharray="2.0 0.55" opacity="0.72"/>
<line x1="513.8" y1="330.9" x2="525.0" y2="345.0" stroke="#14202a" stroke-width="1.25" stroke-dasharray="2.0 0.55" opacity="0.72"/>
<line x1="528.9" y1="318.5" x2="540.0" y2="330.0" stroke="#14202a" stroke-width="1.25" stroke-dasharray="2.0 0.55" opacity="0.72"/>
<line x1="532.7" y1="318.6" x2="544.0" y2="330.0" stroke="#14202a" stroke-width="1.25" stroke-dasharray="2.0 0.55" opacity="0.72"/>
<line x1="306.6" y1="332.6" x2="300.0" y2="345.0" stroke="#14202a" stroke-width="1.25" stroke-dasharray="2.0 0.55" opacity="0.72"/>
<line x1="310.3" y1="332.5" x2="304.0" y2="345.0" stroke="#14202a" stroke-width="1.25" stroke-dasharray="2.0 0.55" opacity="0.72"/>
<line x1="314.1" y1="332.4" x2="308.0" y2="345.0" stroke="#14202a" stroke-width="1.25" stroke-dasharray="2.0 0.55" opacity="0.72"/>
<line x1="287.9" y1="323.5" x2="280.0" y2="335.0" stroke="#14202a" stroke-width="1.25" stroke-dasharray="2.0 0.55" opacity="0.72"/>
<line x1="291.7" y1="323.3" x2="284.0" y2="335.0" stroke="#14202a" stroke-width="1.25" stroke-dasharray="2.0 0.55" opacity="0.72"/>
<line x1="205.0" y1="100.0" x2="214.0" y2="110.7" stroke="#2a1414" stroke-width="1.25" stroke-dasharray="2.0 0.55" opacity="0.72"/>
<line x1="207.2" y1="97.4" x2="216.2" y2="108.1" stroke="#2a1414" stroke-width="1.25" stroke-dasharray="2.0 0.55" opacity="0.72"/>
<line x1="209.4" y1="94.8" x2="218.4" y2="105.5" stroke="#2a1414" stroke-width="1.25" stroke-dasharray="2.0 0.55" opacity="0.72"/>
<line x1="211.6" y1="92.2" x2="220.6" y2="102.9" stroke="#2a1414" stroke-width="1.25" stroke-dasharray="2.0 0.55" opacity="0.72"/>
<line x1="213.8" y1="89.6" x2="222.8" y2="100.3" stroke="#2a1414" stroke-width="1.25" stroke-dasharray="2.0 0.55" opacity="0.72"/>
<line x1="216.0" y1="87.0" x2="225.0" y2="97.7" stroke="#2a1414" stroke-width="1.25" stroke-dasharray="2.0 0.55" opacity="0.72"/>
<line x1="218.2" y1="84.4" x2="227.2" y2="95.1" stroke="#2a1414" stroke-width="1.25" stroke-dasharray="2.0 0.55" opacity="0.72"/>
<line x1="220.4" y1="81.8" x2="229.4" y2="92.5" stroke="#2a1414" stroke-width="1.25" stroke-dasharray="2.0 0.55" opacity="0.72"/>
<line x1="185.0" y1="118.0" x2="204.8" y2="120.8" stroke="#2a1414" stroke-width="1.25" stroke-dasharray="2.0 0.55" opacity="0.72"/>
<line x1="185.0" y1="121.2" x2="204.8" y2="124.0" stroke="#2a1414" stroke-width="1.25" stroke-dasharray="2.0 0.55" opacity="0.72"/>
<line x1="185.0" y1="124.4" x2="204.8" y2="127.2" stroke="#2a1414" stroke-width="1.25" stroke-dasharray="2.0 0.55" opacity="0.72"/>
<line x1="185.0" y1="127.6" x2="204.8" y2="130.4" stroke="#2a1414" stroke-width="1.25" stroke-dasharray="2.0 0.55" opacity="0.72"/>
<line x1="185.0" y1="130.8" x2="204.8" y2="133.6" stroke="#2a1414" stroke-width="1.25" stroke-dasharray="2.0 0.55" opacity="0.72"/>
<line x1="166.0" y1="137.0" x2="181.9" y2="138.4" stroke="#2a1414" stroke-width="1.25" stroke-dasharray="2.0 0.55" opacity="0.72"/>
<line x1="166.0" y1="140.3" x2="181.9" y2="141.7" stroke="#2a1414" stroke-width="1.25" stroke-dasharray="2.0 0.55" opacity="0.72"/>
<line x1="166.0" y1="143.6" x2="181.9" y2="145.0" stroke="#2a1414" stroke-width="1.25" stroke-dasharray="2.0 0.55" opacity="0.72"/>
<line x1="166.0" y1="146.9" x2="181.9" y2="148.3" stroke="#2a1414" stroke-width="1.25" stroke-dasharray="2.0 0.55" opacity="0.72"/>
<line x1="176.0" y1="156.0" x2="190.0" y2="156.7" stroke="#2a1414" stroke-width="1.25" stroke-dasharray="2.0 0.55" opacity="0.72"/>
<line x1="176.0" y1="159.2" x2="190.0" y2="159.9" stroke="#2a1414" stroke-width="1.25" stroke-dasharray="2.0 0.55" opacity="0.72"/>
<line x1="178.0" y1="165.0" x2="192.0" y2="165.5" stroke="#2a1414" stroke-width="1.25" stroke-dasharray="2.0 0.55" opacity="0.72"/>
<line x1="178.0" y1="168.2" x2="192.0" y2="168.7" stroke="#2a1414" stroke-width="1.25" stroke-dasharray="2.0 0.55" opacity="0.72"/>
<line x1="178.0" y1="171.4" x2="192.0" y2="171.9" stroke="#2a1414" stroke-width="1.25" stroke-dasharray="2.0 0.55" opacity="0.72"/>
<line x1="178.0" y1="176.0" x2="196.0" y2="176.0" stroke="#2a1414" stroke-width="1.25" stroke-dasharray="2.0 0.55" opacity="0.72"/>
<line x1="178.0" y1="179.2" x2="196.0" y2="179.2" stroke="#2a1414" stroke-width="1.25" stroke-dasharray="2.0 0.55" opacity="0.72"/>
<line x1="178.0" y1="182.4" x2="196.0" y2="182.4" stroke="#2a1414" stroke-width="1.25" stroke-dasharray="2.0 0.55" opacity="0.72"/>
<line x1="178.0" y1="185.6" x2="196.0" y2="185.6" stroke="#2a1414" stroke-width="1.25" stroke-dasharray="2.0 0.55" opacity="0.72"/>
<line x1="178.0" y1="196.0" x2="192.0" y2="195.3" stroke="#2a1414" stroke-width="1.25" stroke-dasharray="2.0 0.55" opacity="0.72"/>
<line x1="178.0" y1="199.4" x2="192.0" y2="198.7" stroke="#2a1414" stroke-width="1.25" stroke-dasharray="2.0 0.55" opacity="0.72"/>
<line x1="178.0" y1="202.8" x2="192.0" y2="202.1" stroke="#2a1414" stroke-width="1.25" stroke-dasharray="2.0 0.55" opacity="0.72"/>
<line x1="178.0" y1="206.2" x2="192.0" y2="205.5" stroke="#2a1414" stroke-width="1.25" stroke-dasharray="2.0 0.55" opacity="0.72"/>
<line x1="178.0" y1="209.6" x2="192.0" y2="208.9" stroke="#2a1414" stroke-width="1.25" stroke-dasharray="2.0 0.55" opacity="0.72"/>
<line x1="184.0" y1="214.0" x2="199.8" y2="211.8" stroke="#2a1414" stroke-width="1.25" stroke-dasharray="2.0 0.55" opacity="0.72"/>
<line x1="184.0" y1="217.2" x2="199.8" y2="215.0" stroke="#2a1414" stroke-width="1.25" stroke-dasharray="2.0 0.55" opacity="0.72"/>
<line x1="184.0" y1="220.4" x2="199.8" y2="218.2" stroke="#2a1414" stroke-width="1.25" stroke-dasharray="2.0 0.55" opacity="0.72"/>
<line x1="184.0" y1="223.6" x2="199.8" y2="221.4" stroke="#2a1414" stroke-width="1.25" stroke-dasharray="2.0 0.55" opacity="0.72"/>
<line x1="184.0" y1="226.8" x2="199.8" y2="224.6" stroke="#2a1414" stroke-width="1.25" stroke-dasharray="2.0 0.55" opacity="0.72"/>
<line x1="184.0" y1="230.0" x2="199.8" y2="227.8" stroke="#2a1414" stroke-width="1.25" stroke-dasharray="2.0 0.55" opacity="0.72"/>
<line x1="192.0" y1="238.0" x2="211.6" y2="233.8" stroke="#2a1414" stroke-width="1.25" stroke-dasharray="2.0 0.55" opacity="0.72"/>
<line x1="192.0" y1="241.2" x2="211.6" y2="237.0" stroke="#2a1414" stroke-width="1.25" stroke-dasharray="2.0 0.55" opacity="0.72"/>
<line x1="16.0" y1="343.0" x2="29.3" y2="338.7" stroke="#14202a" stroke-width="1.25" stroke-dasharray="2.0 0.55" opacity="0.72"/>
<line x1="22.0" y1="358.0" x2="37.2" y2="353.1" stroke="#14202a" stroke-width="1.25" stroke-dasharray="2.0 0.55" opacity="0.72"/>
<line x1="58.0" y1="349.0" x2="70.2" y2="344.6" stroke="#14202a" stroke-width="1.25" stroke-dasharray="2.0 0.55" opacity="0.72"/>
<line x1="126.0" y1="319.0" x2="139.6" y2="312.7" stroke="#14202a" stroke-width="1.25" stroke-dasharray="2.0 0.55" opacity="0.72"/>
<line x1="16.0" y1="346.0" x2="29.3" y2="341.7" stroke="#14202a" stroke-width="1.25" stroke-dasharray="2.0 0.55" opacity="0.72"/>
<line x1="22.0" y1="361.0" x2="37.2" y2="356.1" stroke="#14202a" stroke-width="1.25" stroke-dasharray="2.0 0.55" opacity="0.72"/>
<line x1="58.0" y1="352.0" x2="70.2" y2="347.6" stroke="#14202a" stroke-width="1.25" stroke-dasharray="2.0 0.55" opacity="0.72"/>
<line x1="126.0" y1="322.0" x2="139.6" y2="315.7" stroke="#14202a" stroke-width="1.25" stroke-dasharray="2.0 0.55" opacity="0.72"/>
<line x1="24.0" y1="364.0" x2="48.7" y2="356.0" stroke="#14202a" stroke-width="1.25" stroke-dasharray="2.0 0.55" opacity="0.72"/>
<line x1="716.0" y1="150.0" x2="716.0" y2="150.0" stroke="#14202a" stroke-width="1.25" stroke-dasharray="2.0 0.55" opacity="0.72"/>
<line x1="716.0" y1="150.0" x2="716.0" y2="150.0" stroke="#14202a" stroke-width="1.25" stroke-dasharray="2.0 0.55" opacity="0.72"/>
<line x1="716.0" y1="150.0" x2="716.0" y2="150.0" stroke="#14202a" stroke-width="1.25" stroke-dasharray="2.0 0.55" opacity="0.72"/>
<line x1="716.0" y1="150.0" x2="716.0" y2="150.0" stroke="#14202a" stroke-width="1.25" stroke-dasharray="2.0 0.55" opacity="0.72"/>
<line x1="716.0" y1="150.0" x2="716.0" y2="150.0" stroke="#14202a" stroke-width="1.25" stroke-dasharray="2.0 0.55" opacity="0.72"/>
<line x1="716.0" y1="150.0" x2="716.0" y2="150.0" stroke="#14202a" stroke-width="1.25" stroke-dasharray="2.0 0.55" opacity="0.72"/>
<line x1="716.0" y1="150.0" x2="716.0" y2="150.0" stroke="#14202a" stroke-width="1.25" stroke-dasharray="2.0 0.55" opacity="0.72"/>
<line x1="716.0" y1="150.0" x2="716.0" y2="150.0" stroke="#14202a" stroke-width="1.25" stroke-dasharray="2.0 0.55" opacity="0.72"/>
<line x1="716.0" y1="150.0" x2="716.0" y2="150.0" stroke="#14202a" stroke-width="1.25" stroke-dasharray="2.0 0.55" opacity="0.72"/>
<line x1="716.0" y1="150.0" x2="716.0" y2="150.0" stroke="#14202a" stroke-width="1.25" stroke-dasharray="2.0 0.55" opacity="0.72"/>
<line x1="716.0" y1="150.0" x2="716.0" y2="150.0" stroke="#14202a" stroke-width="1.25" stroke-dasharray="2.0 0.55" opacity="0.72"/>
<line x1="716.0" y1="150.0" x2="716.0" y2="150.0" stroke="#14202a" stroke-width="1.25" stroke-dasharray="2.0 0.55" opacity="0.72"/>
<line x1="716.0" y1="150.0" x2="716.0" y2="150.0" stroke="#14202a" stroke-width="1.25" stroke-dasharray="2.0 0.55" opacity="0.72"/>
<line x1="716.0" y1="150.0" x2="716.0" y2="150.0" stroke="#14202a" stroke-width="1.25" stroke-dasharray="2.0 0.55" opacity="0.72"/>
<line x1="716.0" y1="150.0" x2="716.0" y2="150.0" stroke="#14202a" stroke-width="1.25" stroke-dasharray="2.0 0.55" opacity="0.72"/>
<line x1="716.0" y1="150.0" x2="716.0" y2="150.0" stroke="#14202a" stroke-width="1.25" stroke-dasharray="2.0 0.55" opacity="0.72"/>
<line x1="734.0" y1="124.0" x2="751.6" y2="127.7" stroke="#14202a" stroke-width="1.25" stroke-dasharray="2.0 0.55" opacity="0.60"/>
<line x1="735.5" y1="127.0" x2="756.0" y2="131.4" stroke="#14202a" stroke-width="1.25" stroke-dasharray="2.0 0.55" opacity="0.60"/>
<line x1="734.0" y1="130.0" x2="757.5" y2="135.0" stroke="#14202a" stroke-width="1.25" stroke-dasharray="2.0 0.55" opacity="0.60"/>
<line x1="735.5" y1="133.0" x2="753.1" y2="136.7" stroke="#14202a" stroke-width="1.25" stroke-dasharray="2.0 0.55" opacity="0.60"/>
<line x1="734.0" y1="136.0" x2="754.5" y2="140.4" stroke="#14202a" stroke-width="1.25" stroke-dasharray="2.0 0.55" opacity="0.60"/>
<line x1="735.5" y1="139.0" x2="759.0" y2="144.0" stroke="#14202a" stroke-width="1.25" stroke-dasharray="2.0 0.55" opacity="0.60"/>
<line x1="734.0" y1="142.0" x2="751.6" y2="145.7" stroke="#14202a" stroke-width="1.25" stroke-dasharray="2.0 0.55" opacity="0.60"/>
<line x1="735.5" y1="145.0" x2="756.0" y2="149.4" stroke="#14202a" stroke-width="1.25" stroke-dasharray="2.0 0.55" opacity="0.60"/>
<line x1="734.0" y1="148.0" x2="757.5" y2="153.0" stroke="#14202a" stroke-width="1.25" stroke-dasharray="2.0 0.55" opacity="0.60"/>
<line x1="735.5" y1="151.0" x2="753.1" y2="154.7" stroke="#14202a" stroke-width="1.25" stroke-dasharray="2.0 0.55" opacity="0.60"/>
<line x1="734.0" y1="154.0" x2="754.5" y2="158.4" stroke="#14202a" stroke-width="1.25" stroke-dasharray="2.0 0.55" opacity="0.60"/>
<line x1="735.5" y1="157.0" x2="759.0" y2="162.0" stroke="#14202a" stroke-width="1.25" stroke-dasharray="2.0 0.55" opacity="0.60"/>
<line x1="734.0" y1="160.0" x2="751.6" y2="163.7" stroke="#14202a" stroke-width="1.25" stroke-dasharray="2.0 0.55" opacity="0.60"/>
<line x1="714.0" y1="168.5" x2="736.0" y2="169.3" stroke="#14202a" stroke-width="1.25" stroke-dasharray="2.0 0.55" opacity="0.60"/>
<line x1="714.0" y1="171.8" x2="743.0" y2="172.8" stroke="#14202a" stroke-width="1.25" stroke-dasharray="2.0 0.55" opacity="0.60"/>
<line x1="714.0" y1="175.0" x2="739.0" y2="175.9" stroke="#14202a" stroke-width="1.25" stroke-dasharray="2.0 0.55" opacity="0.60"/>
<line x1="714.0" y1="178.2" x2="746.0" y2="179.4" stroke="#14202a" stroke-width="1.25" stroke-dasharray="2.0 0.55" opacity="0.60"/>
<line x1="714.0" y1="181.5" x2="742.0" y2="182.5" stroke="#14202a" stroke-width="1.25" stroke-dasharray="2.0 0.55" opacity="0.60"/>
<line x1="714.0" y1="184.8" x2="738.0" y2="185.6" stroke="#14202a" stroke-width="1.25" stroke-dasharray="2.0 0.55" opacity="0.60"/>
<line x1="714.0" y1="188.0" x2="745.0" y2="189.1" stroke="#14202a" stroke-width="1.25" stroke-dasharray="2.0 0.55" opacity="0.60"/>
<line x1="714.0" y1="191.2" x2="741.0" y2="192.2" stroke="#14202a" stroke-width="1.25" stroke-dasharray="2.0 0.55" opacity="0.60"/>
<line x1="714.0" y1="194.5" x2="737.0" y2="195.3" stroke="#14202a" stroke-width="1.25" stroke-dasharray="2.0 0.55" opacity="0.60"/>
<line x1="714.0" y1="197.8" x2="744.0" y2="198.8" stroke="#14202a" stroke-width="1.25" stroke-dasharray="2.0 0.55" opacity="0.60"/>
<line x1="714.0" y1="201.0" x2="740.0" y2="201.9" stroke="#14202a" stroke-width="1.25" stroke-dasharray="2.0 0.55" opacity="0.60"/>
<line x1="714.0" y1="204.2" x2="736.0" y2="205.0" stroke="#14202a" stroke-width="1.25" stroke-dasharray="2.0 0.55" opacity="0.60"/>
<line x1="714.0" y1="207.5" x2="743.0" y2="208.5" stroke="#14202a" stroke-width="1.25" stroke-dasharray="2.0 0.55" opacity="0.60"/>
<line x1="714.0" y1="210.8" x2="739.0" y2="211.6" stroke="#14202a" stroke-width="1.25" stroke-dasharray="2.0 0.55" opacity="0.60"/>
<line x1="714.0" y1="214.0" x2="746.0" y2="215.1" stroke="#14202a" stroke-width="1.25" stroke-dasharray="2.0 0.55" opacity="0.60"/>
<line x1="714.0" y1="217.2" x2="742.0" y2="218.2" stroke="#14202a" stroke-width="1.25" stroke-dasharray="2.0 0.55" opacity="0.60"/>
<line x1="714.0" y1="220.5" x2="738.0" y2="221.3" stroke="#14202a" stroke-width="1.25" stroke-dasharray="2.0 0.55" opacity="0.60"/>
<line x1="714.0" y1="223.8" x2="745.0" y2="224.8" stroke="#14202a" stroke-width="1.25" stroke-dasharray="2.0 0.55" opacity="0.60"/>
<line x1="716.0" y1="236.0" x2="730.0" y2="235.0" stroke="#14202a" stroke-width="1.25" stroke-dasharray="2.0 0.55" opacity="0.60"/>
<line x1="716.0" y1="239.2" x2="735.0" y2="237.9" stroke="#14202a" stroke-width="1.25" stroke-dasharray="2.0 0.55" opacity="0.60"/>
<line x1="716.0" y1="242.4" x2="733.0" y2="241.2" stroke="#14202a" stroke-width="1.25" stroke-dasharray="2.0 0.55" opacity="0.60"/>
<line x1="716.0" y1="245.6" x2="731.0" y2="244.6" stroke="#14202a" stroke-width="1.25" stroke-dasharray="2.0 0.55" opacity="0.60"/>
<line x1="716.0" y1="248.8" x2="736.0" y2="247.4" stroke="#14202a" stroke-width="1.25" stroke-dasharray="2.0 0.55" opacity="0.60"/>
<line x1="716.0" y1="252.0" x2="734.0" y2="250.7" stroke="#14202a" stroke-width="1.25" stroke-dasharray="2.0 0.55" opacity="0.60"/>
<line x1="716.0" y1="255.2" x2="732.0" y2="254.1" stroke="#14202a" stroke-width="1.25" stroke-dasharray="2.0 0.55" opacity="0.60"/>
<line x1="716.0" y1="258.4" x2="730.0" y2="257.4" stroke="#14202a" stroke-width="1.25" stroke-dasharray="2.0 0.55" opacity="0.60"/>
<line x1="716.0" y1="261.6" x2="735.0" y2="260.3" stroke="#14202a" stroke-width="1.25" stroke-dasharray="2.0 0.55" opacity="0.60"/>
<line x1="716.0" y1="264.8" x2="733.0" y2="263.6" stroke="#14202a" stroke-width="1.25" stroke-dasharray="2.0 0.55" opacity="0.60"/>
<line x1="716.0" y1="268.0" x2="731.0" y2="267.0" stroke="#14202a" stroke-width="1.25" stroke-dasharray="2.0 0.55" opacity="0.60"/>
<line x1="716.0" y1="271.2" x2="736.0" y2="269.8" stroke="#14202a" stroke-width="1.25" stroke-dasharray="2.0 0.55" opacity="0.60"/>
<line x1="730.0" y1="280.0" x2="745.8" y2="277.8" stroke="#14202a" stroke-width="1.25" stroke-dasharray="2.0 0.55" opacity="0.72"/>
<line x1="730.0" y1="283.0" x2="745.8" y2="280.8" stroke="#14202a" stroke-width="1.25" stroke-dasharray="2.0 0.55" opacity="0.72"/>
<line x1="730.0" y1="286.0" x2="745.8" y2="283.8" stroke="#14202a" stroke-width="1.25" stroke-dasharray="2.0 0.55" opacity="0.72"/>
<line x1="730.0" y1="289.0" x2="745.8" y2="286.8" stroke="#14202a" stroke-width="1.25" stroke-dasharray="2.0 0.55" opacity="0.72"/>
<line x1="730.0" y1="292.0" x2="745.8" y2="289.8" stroke="#14202a" stroke-width="1.25" stroke-dasharray="2.0 0.55" opacity="0.72"/>
<line x1="797.0" y1="126.0" x2="808.8" y2="131.5" stroke="#14202a" stroke-width="1.25" stroke-dasharray="2.0 0.55" opacity="0.72"/>
<line x1="797.0" y1="129.0" x2="808.8" y2="134.5" stroke="#14202a" stroke-width="1.25" stroke-dasharray="2.0 0.55" opacity="0.72"/>
<line x1="797.0" y1="132.0" x2="808.8" y2="137.5" stroke="#14202a" stroke-width="1.25" stroke-dasharray="2.0 0.55" opacity="0.72"/>
<line x1="797.0" y1="135.0" x2="808.8" y2="140.5" stroke="#14202a" stroke-width="1.25" stroke-dasharray="2.0 0.55" opacity="0.72"/>
<line x1="797.0" y1="138.0" x2="808.8" y2="143.5" stroke="#14202a" stroke-width="1.25" stroke-dasharray="2.0 0.55" opacity="0.72"/>
<line x1="797.0" y1="141.0" x2="808.8" y2="146.5" stroke="#14202a" stroke-width="1.25" stroke-dasharray="2.0 0.55" opacity="0.72"/>
<line x1="818.0" y1="117.0" x2="830.3" y2="127.3" stroke="#14202a" stroke-width="1.25" stroke-dasharray="2.0 0.55" opacity="0.72"/>
<line x1="964.0" y1="56.0" x2="961.8" y2="38.1" stroke="#14202a" stroke-width="1.25" stroke-dasharray="2.0 0.55" opacity="0.72"/>
<line x1="966.8" y1="56.2" x2="965.1" y2="38.3" stroke="#14202a" stroke-width="1.25" stroke-dasharray="2.0 0.55" opacity="0.72"/>
<line x1="969.5" y1="56.5" x2="968.2" y2="34.5" stroke="#14202a" stroke-width="1.25" stroke-dasharray="2.0 0.55" opacity="0.72"/>
<line x1="972.2" y1="56.8" x2="971.6" y2="34.8" stroke="#14202a" stroke-width="1.25" stroke-dasharray="2.0 0.55" opacity="0.72"/>
<line x1="975.0" y1="57.0" x2="975.1" y2="35.0" stroke="#14202a" stroke-width="1.25" stroke-dasharray="2.0 0.55" opacity="0.72"/>
<line x1="977.8" y1="57.2" x2="978.5" y2="35.3" stroke="#14202a" stroke-width="1.25" stroke-dasharray="2.0 0.55" opacity="0.72"/>
<line x1="980.5" y1="57.5" x2="982.0" y2="35.5" stroke="#14202a" stroke-width="1.25" stroke-dasharray="2.0 0.55" opacity="0.72"/>
<line x1="983.2" y1="57.8" x2="985.4" y2="35.9" stroke="#14202a" stroke-width="1.25" stroke-dasharray="2.0 0.55" opacity="0.72"/>
<line x1="986.0" y1="58.0" x2="988.8" y2="36.2" stroke="#14202a" stroke-width="1.25" stroke-dasharray="2.0 0.55" opacity="0.72"/>
<line x1="988.8" y1="58.2" x2="991.6" y2="40.5" stroke="#14202a" stroke-width="1.25" stroke-dasharray="2.0 0.55" opacity="0.72"/>
<line x1="991.5" y1="58.5" x2="994.9" y2="40.8" stroke="#14202a" stroke-width="1.25" stroke-dasharray="2.0 0.55" opacity="0.72"/>
<line x1="994.2" y1="58.8" x2="998.2" y2="41.2" stroke="#14202a" stroke-width="1.25" stroke-dasharray="2.0 0.55" opacity="0.72"/>
<line x1="997.0" y1="59.0" x2="1001.5" y2="41.6" stroke="#14202a" stroke-width="1.25" stroke-dasharray="2.0 0.55" opacity="0.72"/>
<line x1="977.0" y1="32.0" x2="976.2" y2="10.0" stroke="#14202a" stroke-width="1.25" stroke-dasharray="2.0 0.55" opacity="0.72"/>
<line x1="980.5" y1="32.0" x2="980.5" y2="10.0" stroke="#14202a" stroke-width="1.25" stroke-dasharray="2.0 0.55" opacity="0.72"/>
<line x1="984.0" y1="32.0" x2="984.8" y2="10.0" stroke="#14202a" stroke-width="1.25" stroke-dasharray="2.0 0.55" opacity="0.72"/>
<line x1="993.0" y1="82.0" x2="1000.1" y2="64.4" stroke="#14202a" stroke-width="1.25" stroke-dasharray="2.0 0.55" opacity="0.72"/>
<line x1="996.0" y1="83.4" x2="1003.5" y2="66.3" stroke="#14202a" stroke-width="1.25" stroke-dasharray="2.0 0.55" opacity="0.72"/>
<line x1="999.0" y1="84.8" x2="1006.8" y2="68.2" stroke="#14202a" stroke-width="1.25" stroke-dasharray="2.0 0.55" opacity="0.72"/>
<line x1="1002.0" y1="86.2" x2="1010.2" y2="70.0" stroke="#14202a" stroke-width="1.25" stroke-dasharray="2.0 0.55" opacity="0.72"/>
<line x1="1005.0" y1="87.6" x2="1013.5" y2="71.9" stroke="#14202a" stroke-width="1.25" stroke-dasharray="2.0 0.55" opacity="0.72"/>
<line x1="1008.0" y1="89.0" x2="1016.8" y2="73.8" stroke="#14202a" stroke-width="1.25" stroke-dasharray="2.0 0.55" opacity="0.72"/>
<line x1="1011.0" y1="90.4" x2="1020.0" y2="75.8" stroke="#14202a" stroke-width="1.25" stroke-dasharray="2.0 0.55" opacity="0.72"/>
<line x1="1014.0" y1="91.8" x2="1023.3" y2="77.7" stroke="#14202a" stroke-width="1.25" stroke-dasharray="2.0 0.55" opacity="0.72"/>
<line x1="1017.0" y1="93.2" x2="1026.5" y2="79.6" stroke="#14202a" stroke-width="1.25" stroke-dasharray="2.0 0.55" opacity="0.72"/>
<line x1="1020.0" y1="94.6" x2="1029.7" y2="81.5" stroke="#14202a" stroke-width="1.25" stroke-dasharray="2.0 0.55" opacity="0.72"/>
<line x1="1023.0" y1="96.0" x2="1032.9" y2="83.4" stroke="#14202a" stroke-width="1.25" stroke-dasharray="2.0 0.55" opacity="0.72"/>
<line x1="1026.0" y1="97.4" x2="1036.0" y2="85.3" stroke="#14202a" stroke-width="1.25" stroke-dasharray="2.0 0.55" opacity="0.72"/>
<line x1="1029.0" y1="98.8" x2="1039.1" y2="87.2" stroke="#14202a" stroke-width="1.25" stroke-dasharray="2.0 0.55" opacity="0.72"/>
<line x1="1032.0" y1="100.2" x2="1042.3" y2="89.1" stroke="#14202a" stroke-width="1.25" stroke-dasharray="2.0 0.55" opacity="0.72"/>
<line x1="1020.0" y1="72.5" x2="1030.1" y2="57.6" stroke="#14202a" stroke-width="1.25" stroke-dasharray="2.0 0.55" opacity="0.72"/>
<line x1="1018.5" y1="111.0" x2="1030.5" y2="99.0" stroke="#14202a" stroke-width="1.25" stroke-dasharray="2.0 0.55" opacity="0.72"/>
<line x1="1020.7" y1="112.6" x2="1032.7" y2="100.6" stroke="#14202a" stroke-width="1.25" stroke-dasharray="2.0 0.55" opacity="0.72"/>
<line x1="1022.9" y1="114.2" x2="1034.9" y2="102.2" stroke="#14202a" stroke-width="1.25" stroke-dasharray="2.0 0.55" opacity="0.72"/>
<line x1="1025.1" y1="115.8" x2="1037.1" y2="103.8" stroke="#14202a" stroke-width="1.25" stroke-dasharray="2.0 0.55" opacity="0.72"/>
<line x1="1027.3" y1="117.4" x2="1039.3" y2="105.4" stroke="#14202a" stroke-width="1.25" stroke-dasharray="2.0 0.55" opacity="0.72"/>
<line x1="1029.5" y1="119.0" x2="1041.5" y2="107.0" stroke="#14202a" stroke-width="1.25" stroke-dasharray="2.0 0.55" opacity="0.72"/>
<line x1="1066.0" y1="88.0" x2="1083.7" y2="78.6" stroke="#14202a" stroke-width="1.25" stroke-dasharray="2.0 0.55" opacity="0.72"/>
<line x1="1067.3" y1="90.2" x2="1085.0" y2="80.8" stroke="#14202a" stroke-width="1.25" stroke-dasharray="2.0 0.55" opacity="0.72"/>
<line x1="1068.6" y1="92.4" x2="1086.3" y2="83.0" stroke="#14202a" stroke-width="1.25" stroke-dasharray="2.0 0.55" opacity="0.72"/>
<line x1="1069.9" y1="94.6" x2="1087.6" y2="85.2" stroke="#14202a" stroke-width="1.25" stroke-dasharray="2.0 0.55" opacity="0.72"/>
<line x1="1071.2" y1="96.8" x2="1088.9" y2="87.4" stroke="#14202a" stroke-width="1.25" stroke-dasharray="2.0 0.55" opacity="0.72"/>
<line x1="1072.5" y1="99.0" x2="1090.2" y2="89.6" stroke="#14202a" stroke-width="1.25" stroke-dasharray="2.0 0.55" opacity="0.72"/>
<line x1="1078.0" y1="134.0" x2="1095.8" y2="131.5" stroke="#14202a" stroke-width="1.25" stroke-dasharray="2.0 0.55" opacity="0.72"/>
<line x1="1078.0" y1="136.8" x2="1095.8" y2="134.3" stroke="#14202a" stroke-width="1.25" stroke-dasharray="2.0 0.55" opacity="0.72"/>
<line x1="1078.0" y1="139.6" x2="1095.8" y2="137.1" stroke="#14202a" stroke-width="1.25" stroke-dasharray="2.0 0.55" opacity="0.72"/>
<line x1="1078.0" y1="142.4" x2="1095.8" y2="139.9" stroke="#14202a" stroke-width="1.25" stroke-dasharray="2.0 0.55" opacity="0.72"/>
<line x1="1078.0" y1="145.2" x2="1095.8" y2="142.7" stroke="#14202a" stroke-width="1.25" stroke-dasharray="2.0 0.55" opacity="0.72"/>
<line x1="1116.0" y1="147.0" x2="1137.9" y2="145.1" stroke="#14202a" stroke-width="1.25" stroke-dasharray="2.0 0.55" opacity="0.72"/>
<line x1="1116.0" y1="150.0" x2="1137.9" y2="148.1" stroke="#14202a" stroke-width="1.25" stroke-dasharray="2.0 0.55" opacity="0.72"/>
<line x1="1116.0" y1="153.0" x2="1137.9" y2="151.1" stroke="#14202a" stroke-width="1.25" stroke-dasharray="2.0 0.55" opacity="0.72"/>
<line x1="1116.0" y1="156.0" x2="1137.9" y2="154.1" stroke="#14202a" stroke-width="1.25" stroke-dasharray="2.0 0.55" opacity="0.72"/>
<line x1="1116.0" y1="159.0" x2="1137.9" y2="157.1" stroke="#14202a" stroke-width="1.25" stroke-dasharray="2.0 0.55" opacity="0.72"/>
<line x1="1116.0" y1="162.0" x2="1137.9" y2="160.1" stroke="#14202a" stroke-width="1.25" stroke-dasharray="2.0 0.55" opacity="0.72"/>
<line x1="870.0" y1="56.0" x2="870.0" y2="56.0" stroke="#14202a" stroke-width="1.25" stroke-dasharray="2.0 0.55" opacity="0.72"/>
<line x1="870.0" y1="56.0" x2="870.0" y2="56.0" stroke="#14202a" stroke-width="1.25" stroke-dasharray="2.0 0.55" opacity="0.72"/>
<line x1="870.0" y1="56.0" x2="870.0" y2="56.0" stroke="#14202a" stroke-width="1.25" stroke-dasharray="2.0 0.55" opacity="0.72"/>
<line x1="870.0" y1="56.0" x2="870.0" y2="56.0" stroke="#14202a" stroke-width="1.25" stroke-dasharray="2.0 0.55" opacity="0.72"/>
<line x1="870.0" y1="56.0" x2="870.0" y2="56.0" stroke="#14202a" stroke-width="1.25" stroke-dasharray="2.0 0.55" opacity="0.72"/>
<line x1="870.0" y1="56.0" x2="870.0" y2="56.0" stroke="#14202a" stroke-width="1.25" stroke-dasharray="2.0 0.55" opacity="0.72"/>
<line x1="866.6" y1="80.8" x2="860.0" y2="68.4" stroke="#14202a" stroke-width="1.25" stroke-dasharray="2.0 0.55" opacity="0.72"/>
<line x1="870.1" y1="79.0" x2="863.9" y2="66.5" stroke="#14202a" stroke-width="1.25" stroke-dasharray="2.0 0.55" opacity="0.72"/>
<line x1="873.7" y1="77.3" x2="867.8" y2="64.6" stroke="#14202a" stroke-width="1.25" stroke-dasharray="2.0 0.55" opacity="0.72"/>
<line x1="877.3" y1="75.7" x2="871.8" y2="62.8" stroke="#14202a" stroke-width="1.25" stroke-dasharray="2.0 0.55" opacity="0.72"/>
<line x1="880.9" y1="74.3" x2="875.8" y2="61.2" stroke="#14202a" stroke-width="1.25" stroke-dasharray="2.0 0.55" opacity="0.72"/>
<line x1="884.6" y1="72.9" x2="879.9" y2="59.7" stroke="#14202a" stroke-width="1.25" stroke-dasharray="2.0 0.55" opacity="0.72"/>
<line x1="888.3" y1="71.6" x2="884.0" y2="58.3" stroke="#14202a" stroke-width="1.25" stroke-dasharray="2.0 0.55" opacity="0.72"/>
<line x1="851.2" y1="99.1" x2="843.8" y2="89.7" stroke="#14202a" stroke-width="1.25" stroke-dasharray="2.0 0.55" opacity="0.72"/>
<line x1="854.8" y1="96.4" x2="847.7" y2="86.7" stroke="#14202a" stroke-width="1.25" stroke-dasharray="2.0 0.55" opacity="0.72"/>
<line x1="858.4" y1="93.9" x2="851.7" y2="83.9" stroke="#14202a" stroke-width="1.25" stroke-dasharray="2.0 0.55" opacity="0.72"/>
<line x1="862.2" y1="91.4" x2="855.8" y2="81.3" stroke="#14202a" stroke-width="1.25" stroke-dasharray="2.0 0.55" opacity="0.72"/>
<line x1="848.5" y1="80.0" x2="856.0" y2="94.1" stroke="#333" stroke-width="1.25" stroke-dasharray="2.0 0.55" opacity="0.72"/>
<line x1="850.4" y1="79.4" x2="857.9" y2="93.5" stroke="#333" stroke-width="1.25" stroke-dasharray="2.0 0.55" opacity="0.72"/>
<line x1="852.3" y1="78.8" x2="859.8" y2="92.9" stroke="#333" stroke-width="1.25" stroke-dasharray="2.0 0.55" opacity="0.72"/>
<line x1="854.2" y1="78.2" x2="861.7" y2="92.3" stroke="#333" stroke-width="1.25" stroke-dasharray="2.0 0.55" opacity="0.72"/>
<line x1="856.1" y1="77.6" x2="863.6" y2="91.7" stroke="#333" stroke-width="1.25" stroke-dasharray="2.0 0.55" opacity="0.72"/>
<line x1="861.0" y1="99.0" x2="866.2" y2="108.7" stroke="#333" stroke-width="1.25" stroke-dasharray="2.0 0.55" opacity="0.72"/>
<line x1="862.9" y1="99.0" x2="868.1" y2="108.7" stroke="#333" stroke-width="1.25" stroke-dasharray="2.0 0.55" opacity="0.72"/>
<line x1="864.8" y1="99.0" x2="870.0" y2="108.7" stroke="#333" stroke-width="1.25" stroke-dasharray="2.0 0.55" opacity="0.72"/>
<line x1="903.0" y1="70.0" x2="903.7" y2="90.0" stroke="#300" stroke-width="1.25" stroke-dasharray="2.0 0.55" opacity="0.72"/>
<line x1="907.0" y1="70.0" x2="907.7" y2="90.0" stroke="#300" stroke-width="1.25" stroke-dasharray="2.0 0.55" opacity="0.72"/>
<line x1="911.0" y1="70.0" x2="912.7" y2="118.0" stroke="#300" stroke-width="1.25" stroke-dasharray="2.0 0.55" opacity="0.72"/>
<line x1="915.0" y1="70.0" x2="916.7" y2="118.0" stroke="#300" stroke-width="1.25" stroke-dasharray="2.0 0.55" opacity="0.72"/>
<line x1="919.0" y1="70.0" x2="920.7" y2="118.0" stroke="#300" stroke-width="1.25" stroke-dasharray="2.0 0.55" opacity="0.72"/>
<line x1="923.0" y1="70.0" x2="924.7" y2="118.0" stroke="#300" stroke-width="1.25" stroke-dasharray="2.0 0.55" opacity="0.72"/>
<line x1="927.0" y1="70.0" x2="928.7" y2="118.0" stroke="#300" stroke-width="1.25" stroke-dasharray="2.0 0.55" opacity="0.72"/>
<line x1="1082.0" y1="96.0" x2="1101.4" y2="85.7" stroke="#300" stroke-width="1.25" stroke-dasharray="2.0 0.55" opacity="0.72"/>
<line x1="1083.3" y1="98.3" x2="1102.7" y2="88.0" stroke="#300" stroke-width="1.25" stroke-dasharray="2.0 0.55" opacity="0.72"/>
<line x1="1084.6" y1="100.6" x2="1104.0" y2="90.3" stroke="#300" stroke-width="1.25" stroke-dasharray="2.0 0.55" opacity="0.72"/>
<line x1="1085.9" y1="102.9" x2="1105.3" y2="92.6" stroke="#300" stroke-width="1.25" stroke-dasharray="2.0 0.55" opacity="0.72"/>
<line x1="1087.2" y1="105.2" x2="1106.6" y2="94.9" stroke="#300" stroke-width="1.25" stroke-dasharray="2.0 0.55" opacity="0.72"/>
<line x1="1088.5" y1="107.5" x2="1107.9" y2="97.2" stroke="#300" stroke-width="1.25" stroke-dasharray="2.0 0.55" opacity="0.72"/>
<line x1="1089.8" y1="109.8" x2="1109.2" y2="99.5" stroke="#300" stroke-width="1.25" stroke-dasharray="2.0 0.55" opacity="0.72"/>
<line x1="1091.1" y1="112.1" x2="1110.5" y2="101.8" stroke="#300" stroke-width="1.25" stroke-dasharray="2.0 0.55" opacity="0.72"/>
<line x1="1092.4" y1="114.4" x2="1111.8" y2="104.1" stroke="#300" stroke-width="1.25" stroke-dasharray="2.0 0.55" opacity="0.72"/>
<line x1="1071.0" y1="189.0" x2="1090.0" y2="189.0" stroke="#3a2a10" stroke-width="1.25" stroke-dasharray="2.0 0.55" opacity="0.72"/>
<line x1="1071.0" y1="192.0" x2="1090.0" y2="192.0" stroke="#3a2a10" stroke-width="1.25" stroke-dasharray="2.0 0.55" opacity="0.72"/>
<line x1="1071.0" y1="195.0" x2="1090.0" y2="195.0" stroke="#3a2a10" stroke-width="1.25" stroke-dasharray="2.0 0.55" opacity="0.72"/>
<line x1="1071.0" y1="198.0" x2="1090.0" y2="198.0" stroke="#3a2a10" stroke-width="1.25" stroke-dasharray="2.0 0.55" opacity="0.72"/>
<line x1="1071.0" y1="201.0" x2="1090.0" y2="201.0" stroke="#3a2a10" stroke-width="1.25" stroke-dasharray="2.0 0.55" opacity="0.72"/>
<line x1="1071.0" y1="204.0" x2="1090.0" y2="204.0" stroke="#3a2a10" stroke-width="1.25" stroke-dasharray="2.0 0.55" opacity="0.72"/>
<line x1="1069.0" y1="219.0" x2="1086.7" y2="215.9" stroke="#3a2a10" stroke-width="1.25" stroke-dasharray="2.0 0.55" opacity="0.72"/>
<line x1="1067.5" y1="222.6" x2="1085.1" y2="219.1" stroke="#3a2a10" stroke-width="1.25" stroke-dasharray="2.0 0.55" opacity="0.72"/>
<line x1="1065.9" y1="226.2" x2="1083.5" y2="222.3" stroke="#3a2a10" stroke-width="1.25" stroke-dasharray="2.0 0.55" opacity="0.72"/>
<line x1="1064.3" y1="229.8" x2="1081.8" y2="225.6" stroke="#3a2a10" stroke-width="1.25" stroke-dasharray="2.0 0.55" opacity="0.72"/>
<line x1="1062.8" y1="233.4" x2="1080.2" y2="228.8" stroke="#3a2a10" stroke-width="1.25" stroke-dasharray="2.0 0.55" opacity="0.72"/>
<line x1="1061.2" y1="237.0" x2="1078.6" y2="232.0" stroke="#3a2a10" stroke-width="1.25" stroke-dasharray="2.0 0.55" opacity="0.72"/>
<line x1="1059.7" y1="240.6" x2="1076.9" y2="235.3" stroke="#3a2a10" stroke-width="1.25" stroke-dasharray="2.0 0.55" opacity="0.72"/>
<line x1="1058.2" y1="244.2" x2="1075.2" y2="238.5" stroke="#3a2a10" stroke-width="1.25" stroke-dasharray="2.0 0.55" opacity="0.72"/>
<line x1="1056.6" y1="247.8" x2="1073.6" y2="241.8" stroke="#3a2a10" stroke-width="1.25" stroke-dasharray="2.0 0.55" opacity="0.72"/>
<line x1="1055.0" y1="251.4" x2="1071.9" y2="245.0" stroke="#3a2a10" stroke-width="1.25" stroke-dasharray="2.0 0.55" opacity="0.72"/>
<line x1="1053.5" y1="255.0" x2="1070.2" y2="248.3" stroke="#3a2a10" stroke-width="1.25" stroke-dasharray="2.0 0.55" opacity="0.72"/>
<line x1="1052.0" y1="258.6" x2="1068.5" y2="251.5" stroke="#3a2a10" stroke-width="1.25" stroke-dasharray="2.0 0.55" opacity="0.72"/>
<line x1="1050.4" y1="262.2" x2="1066.8" y2="254.8" stroke="#3a2a10" stroke-width="1.25" stroke-dasharray="2.0 0.55" opacity="0.72"/>
<line x1="1048.8" y1="265.8" x2="1065.1" y2="258.0" stroke="#3a2a10" stroke-width="1.25" stroke-dasharray="2.0 0.55" opacity="0.72"/>
<line x1="745.0" y1="302.0" x2="758.1" y2="292.8" stroke="#14202a" stroke-width="1.25" stroke-dasharray="2.0 0.55" opacity="0.45"/>
<line x1="747.6" y1="305.2" x2="760.7" y2="296.0" stroke="#14202a" stroke-width="1.25" stroke-dasharray="2.0 0.55" opacity="0.45"/>
<line x1="750.2" y1="308.4" x2="763.3" y2="299.2" stroke="#14202a" stroke-width="1.25" stroke-dasharray="2.0 0.55" opacity="0.45"/>
<line x1="752.8" y1="311.6" x2="765.9" y2="302.4" stroke="#14202a" stroke-width="1.25" stroke-dasharray="2.0 0.55" opacity="0.45"/>
<line x1="755.4" y1="314.8" x2="768.5" y2="305.6" stroke="#14202a" stroke-width="1.25" stroke-dasharray="2.0 0.55" opacity="0.45"/>
<line x1="758.0" y1="318.0" x2="771.1" y2="308.8" stroke="#14202a" stroke-width="1.25" stroke-dasharray="2.0 0.55" opacity="0.45"/>
<line x1="760.6" y1="321.2" x2="773.7" y2="312.0" stroke="#14202a" stroke-width="1.25" stroke-dasharray="2.0 0.55" opacity="0.45"/>
<line x1="763.2" y1="324.4" x2="776.3" y2="315.2" stroke="#14202a" stroke-width="1.25" stroke-dasharray="2.0 0.55" opacity="0.45"/>
<line x1="765.8" y1="327.6" x2="778.9" y2="318.4" stroke="#14202a" stroke-width="1.25" stroke-dasharray="2.0 0.55" opacity="0.45"/>
<line x1="812.0" y1="358.5" x2="812.0" y2="340.5" stroke="#14202a" stroke-width="1.25" stroke-dasharray="2.0 0.55" opacity="0.85"/>
<line x1="816.1" y1="358.5" x2="816.1" y2="337.5" stroke="#14202a" stroke-width="1.25" stroke-dasharray="2.0 0.55" opacity="0.85"/>
<line x1="820.2" y1="358.5" x2="820.2" y2="334.5" stroke="#14202a" stroke-width="1.25" stroke-dasharray="2.0 0.55" opacity="0.85"/>
<line x1="824.3" y1="358.5" x2="824.3" y2="340.5" stroke="#14202a" stroke-width="1.25" stroke-dasharray="2.0 0.55" opacity="0.85"/>
<line x1="828.4" y1="358.5" x2="828.4" y2="337.5" stroke="#14202a" stroke-width="1.25" stroke-dasharray="2.0 0.55" opacity="0.85"/>
<line x1="832.5" y1="358.5" x2="832.5" y2="334.5" stroke="#14202a" stroke-width="1.25" stroke-dasharray="2.0 0.55" opacity="0.85"/>
<line x1="836.6" y1="358.5" x2="836.6" y2="340.5" stroke="#14202a" stroke-width="1.25" stroke-dasharray="2.0 0.55" opacity="0.85"/>
<line x1="840.7" y1="358.5" x2="840.7" y2="337.5" stroke="#14202a" stroke-width="1.25" stroke-dasharray="2.0 0.55" opacity="0.85"/>
<line x1="844.8" y1="358.5" x2="844.8" y2="334.5" stroke="#14202a" stroke-width="1.25" stroke-dasharray="2.0 0.55" opacity="0.85"/>
<line x1="848.9" y1="358.5" x2="848.9" y2="340.5" stroke="#14202a" stroke-width="1.25" stroke-dasharray="2.0 0.55" opacity="0.85"/>
<line x1="853.0" y1="358.5" x2="853.0" y2="337.5" stroke="#14202a" stroke-width="1.25" stroke-dasharray="2.0 0.55" opacity="0.85"/>
<line x1="812.0" y1="309.3" x2="805.0" y2="321.4" stroke="#14202a" stroke-width="1.25" stroke-dasharray="2.0 0.55" opacity="0.40"/>
<line x1="806.9" y1="306.1" x2="799.0" y2="317.7" stroke="#14202a" stroke-width="1.25" stroke-dasharray="2.0 0.55" opacity="0.40"/>
<line x1="802.1" y1="302.5" x2="793.4" y2="313.5" stroke="#14202a" stroke-width="1.25" stroke-dasharray="2.0 0.55" opacity="0.40"/>
<line x1="797.6" y1="298.6" x2="788.1" y2="308.9" stroke="#14202a" stroke-width="1.25" stroke-dasharray="2.0 0.55" opacity="0.40"/>
<line x1="793.4" y1="294.4" x2="783.1" y2="303.9" stroke="#14202a" stroke-width="1.25" stroke-dasharray="2.0 0.55" opacity="0.40"/>
<line x1="789.5" y1="289.9" x2="778.5" y2="298.6" stroke="#14202a" stroke-width="1.25" stroke-dasharray="2.0 0.55" opacity="0.40"/>
<line x1="785.9" y1="285.1" x2="774.3" y2="293.0" stroke="#14202a" stroke-width="1.25" stroke-dasharray="2.0 0.55" opacity="0.40"/>
<line x1="782.7" y1="280.0" x2="770.6" y2="287.0" stroke="#14202a" stroke-width="1.25" stroke-dasharray="2.0 0.55" opacity="0.40"/>
<line x1="985.0" y1="310.0" x2="973.4" y2="323.8" stroke="#301010" stroke-width="1.25" stroke-dasharray="2.0 0.55" opacity="0.35"/>
<line x1="987.2" y1="312.6" x2="975.6" y2="326.4" stroke="#301010" stroke-width="1.25" stroke-dasharray="2.0 0.55" opacity="0.35"/>
<line x1="989.4" y1="315.2" x2="977.8" y2="329.0" stroke="#301010" stroke-width="1.25" stroke-dasharray="2.0 0.55" opacity="0.35"/>
<line x1="991.6" y1="317.8" x2="980.0" y2="331.6" stroke="#301010" stroke-width="1.25" stroke-dasharray="2.0 0.55" opacity="0.35"/>
<line x1="993.8" y1="320.4" x2="982.2" y2="334.2" stroke="#301010" stroke-width="1.25" stroke-dasharray="2.0 0.55" opacity="0.35"/>
<line x1="996.0" y1="323.0" x2="984.4" y2="336.8" stroke="#301010" stroke-width="1.25" stroke-dasharray="2.0 0.55" opacity="0.35"/>
<line x1="998.2" y1="325.6" x2="986.6" y2="339.4" stroke="#301010" stroke-width="1.25" stroke-dasharray="2.0 0.55" opacity="0.35"/>
<line x1="1000.4" y1="328.2" x2="988.8" y2="342.0" stroke="#301010" stroke-width="1.25" stroke-dasharray="2.0 0.55" opacity="0.35"/>
<line x1="1002.6" y1="330.8" x2="991.0" y2="344.6" stroke="#301010" stroke-width="1.25" stroke-dasharray="2.0 0.55" opacity="0.35"/>
<line x1="1004.8" y1="333.4" x2="993.2" y2="347.2" stroke="#301010" stroke-width="1.25" stroke-dasharray="2.0 0.55" opacity="0.35"/>
<line x1="1014.0" y1="262.0" x2="1023.2" y2="269.7" stroke="#14202a" stroke-width="1.25" stroke-dasharray="2.0 0.55" opacity="0.72"/>
<line x1="916.0" y1="268.0" x2="916.5" y2="282.0" stroke="#14202a" stroke-width="1.25" stroke-dasharray="2.0 0.55" opacity="0.72"/>
<line x1="931.0" y1="168.0" x2="933.9" y2="144.2" stroke="#14202a" stroke-width="1.25" stroke-dasharray="2.0 0.55" opacity="0.72"/>
<line x1="1105.0" y1="368.0" x2="1114.2" y2="375.7" stroke="#14202a" stroke-width="1.25" stroke-dasharray="2.0 0.55" opacity="0.72"/>
<line x1="1107.0" y1="365.5" x2="1116.2" y2="373.2" stroke="#14202a" stroke-width="1.25" stroke-dasharray="2.0 0.55" opacity="0.72"/>
<line x1="930.0" y1="290.0" x2="930.0" y2="300.0" stroke="#3a2a10" stroke-width="1.25" stroke-dasharray="2.0 0.55" opacity="0.72"/>
<line x1="933.0" y1="290.0" x2="933.0" y2="300.0" stroke="#3a2a10" stroke-width="1.25" stroke-dasharray="2.0 0.55" opacity="0.72"/>
<rect x="16" y="5.0" width="9" height="9" fill="#dcdcdc"/>
<text x="31.0" y="12.4" font-family="Liberation Serif" font-size="6.90" fill="#1c1c1c" textLength="152.0" lengthAdjust="spacingAndGlyphs" font-style="italic" stroke="#222" stroke-width="0.12">Platyrhodon+Banksianae+Laevigatae+Pimpinellifolia</text>
<rect x="16" y="22.5" width="9" height="9" fill="#b06262"/>
<text x="31.0" y="29.9" font-family="Liberation Serif" font-size="6.90" fill="#1c1c1c" textLength="54.0" lengthAdjust="spacingAndGlyphs" font-style="italic" stroke="#222" stroke-width="0.12">&#8220;Rosa&#8221;+Carolinae</text>
<rect x="16" y="40.0" width="9" height="9" fill="#f3be52"/>
<text x="31.0" y="47.4" font-family="Liberation Serif" font-size="6.90" fill="#1c1c1c" textLength="59.0" lengthAdjust="spacingAndGlyphs" font-style="italic" stroke="#222" stroke-width="0.12">Caninae+Gallicanae</text>
<rect x="16" y="57.5" width="9" height="9" fill="#66d9fc"/>
<text x="31.0" y="64.9" font-family="Liberation Serif" font-size="6.90" fill="#1c1c1c" textLength="26.0" lengthAdjust="spacingAndGlyphs" font-style="italic" stroke="#222" stroke-width="0.12">Synstylae</text>
<rect x="16" y="75.0" width="9" height="9" fill="#ec2b2f"/>
<text x="31.0" y="82.4" font-family="Liberation Serif" font-size="6.90" fill="#1c1c1c" textLength="28.5" lengthAdjust="spacingAndGlyphs" font-style="italic" stroke="#222" stroke-width="0.12">Chinenses</text>
<rect x="625" y="14.3" width="8.6" height="8" fill="#dcdcdc"/>
<text x="639.5" y="20.7" font-family="Liberation Serif" font-size="6.60" fill="#1c1c1c" textLength="146.0" lengthAdjust="spacingAndGlyphs" font-style="italic" stroke="#222" stroke-width="0.1">Platyrhodon+Banksianae+Laevigatae+Pimpinellifolia</text>
<rect x="625" y="29.3" width="8.6" height="8" fill="#b06262"/>
<text x="639.5" y="35.7" font-family="Liberation Serif" font-size="6.60" fill="#1c1c1c" textLength="44.0" lengthAdjust="spacingAndGlyphs" font-style="italic" stroke="#222" stroke-width="0.1">Rosa+Carolinae</text>
<rect x="625" y="44.3" width="8.6" height="8" fill="#f1c264"/>
<text x="639.5" y="50.7" font-family="Liberation Serif" font-size="6.60" fill="#1c1c1c" textLength="56.0" lengthAdjust="spacingAndGlyphs" font-style="italic" stroke="#222" stroke-width="0.1">Caninae+Gallicanae</text>
<rect x="625" y="59.3" width="8.6" height="8" fill="#66d9fc"/>
<text x="639.5" y="65.7" font-family="Liberation Serif" font-size="6.60" fill="#1c1c1c" textLength="25.0" lengthAdjust="spacingAndGlyphs" font-style="italic" stroke="#222" stroke-width="0.1">Synstylae</text>
<rect x="625" y="74.3" width="8.6" height="8" fill="#ec2b2f"/>
<text x="639.5" y="80.7" font-family="Liberation Serif" font-size="6.60" fill="#1c1c1c" textLength="27.0" lengthAdjust="spacingAndGlyphs" font-style="italic" stroke="#222" stroke-width="0.1">Chinenses</text>
<text x="37.0" y="256.5" font-family="Liberation Sans" font-size="2.80" fill="#222" >0.01</text>
<text x="648.0" y="364.6" font-family="Liberation Sans" font-size="3.60" fill="#222" >0 002</text>
<text x="63.5" y="403.0" font-family="Liberation Sans" font-size="8.40" fill="#000" textLength="47.1" lengthAdjust="spacingAndGlyphs" stroke="#000" stroke-width="0.2">Phylogenetic</text>
<text x="113.5" y="403.0" font-family="Liberation Sans" font-size="8.40" fill="#000" textLength="30.4" lengthAdjust="spacingAndGlyphs" stroke="#000" stroke-width="0.2">network</text>
<text x="146.6" y="403.0" font-family="Liberation Sans" font-size="8.40" fill="#000" textLength="17.4" lengthAdjust="spacingAndGlyphs" stroke="#000" stroke-width="0.2">from</text>
<text x="166.8" y="403.0" font-family="Liberation Sans" font-size="8.40" fill="#000" textLength="42.6" lengthAdjust="spacingAndGlyphs" stroke="#000" stroke-width="0.2">NeighorNet</text>
<text x="212.3" y="403.0" font-family="Liberation Sans" font-size="8.40" fill="#000" textLength="29.9" lengthAdjust="spacingAndGlyphs" stroke="#000" stroke-width="0.2">analysis</text>
<text x="244.8" y="403.0" font-family="Liberation Sans" font-size="8.40" fill="#000" textLength="7.4" lengthAdjust="spacingAndGlyphs" stroke="#000" stroke-width="0.2">of</text>
<text x="254.8" y="403.0" font-family="Liberation Sans" font-size="8.40" fill="#000" textLength="25.9" lengthAdjust="spacingAndGlyphs" stroke="#000" stroke-width="0.2" font-style="italic">GAPDH</text>
<text x="284.3" y="403.0" font-family="Liberation Sans" font-size="8.40" fill="#000" textLength="27.5" lengthAdjust="spacingAndGlyphs" stroke="#000" stroke-width="0.2">dataset.</text>
<text x="314.8" y="403.0" font-family="Liberation Sans" font-size="8.40" fill="#000" textLength="32.9" lengthAdjust="spacingAndGlyphs" stroke="#000" stroke-width="0.2">Different</text>
<text x="350.6" y="403.0" font-family="Liberation Sans" font-size="8.40" fill="#000" textLength="22.1" lengthAdjust="spacingAndGlyphs" stroke="#000" stroke-width="0.2">colors</text>
<text x="375.6" y="403.0" font-family="Liberation Sans" font-size="8.40" fill="#000" textLength="29.1" lengthAdjust="spacingAndGlyphs" stroke="#000" stroke-width="0.2">indicate</text>
<text x="407.8" y="403.0" font-family="Liberation Sans" font-size="8.40" fill="#000" textLength="34.9" lengthAdjust="spacingAndGlyphs" stroke="#000" stroke-width="0.2">subgenus</text>
<text x="445.6" y="403.0" font-family="Liberation Sans" font-size="8.40" fill="#000" textLength="7.2" lengthAdjust="spacingAndGlyphs" stroke="#000" stroke-width="0.2">or</text>
<text x="455.6" y="403.0" font-family="Liberation Sans" font-size="8.40" fill="#000" textLength="29.1" lengthAdjust="spacingAndGlyphs" stroke="#000" stroke-width="0.2">sections</text>
<text x="487.8" y="403.0" font-family="Liberation Sans" font-size="8.40" fill="#000" textLength="6.2" lengthAdjust="spacingAndGlyphs" stroke="#000" stroke-width="0.2">in</text>
<text x="497.3" y="403.0" font-family="Liberation Sans" font-size="8.40" fill="#000" textLength="39.1" lengthAdjust="spacingAndGlyphs" stroke="#000" stroke-width="0.2">traditional</text>
<text x="539.3" y="403.0" font-family="Liberation Sans" font-size="8.40" fill="#000" textLength="39.6" lengthAdjust="spacingAndGlyphs" stroke="#000" stroke-width="0.2">taxonomy.</text>
<text x="683.5" y="402.6" font-family="Liberation Sans" font-size="7.80" fill="#000" textLength="42.9" lengthAdjust="spacingAndGlyphs" stroke="#000" stroke-width="0.2">Phylogenetic</text>
<text x="729.8" y="402.6" font-family="Liberation Sans" font-size="7.80" fill="#000" textLength="27.9" lengthAdjust="spacingAndGlyphs" stroke="#000" stroke-width="0.2">network</text>
<text x="760.5" y="402.6" font-family="Liberation Sans" font-size="7.80" fill="#000" textLength="15.9" lengthAdjust="spacingAndGlyphs" stroke="#000" stroke-width="0.2">from</text>
<text x="779.3" y="402.6" font-family="Liberation Sans" font-size="7.80" fill="#000" textLength="39.1" lengthAdjust="spacingAndGlyphs" stroke="#000" stroke-width="0.2">NeighorNet</text>
<text x="821.5" y="402.6" font-family="Liberation Sans" font-size="7.80" fill="#000" textLength="27.4" lengthAdjust="spacingAndGlyphs" stroke="#000" stroke-width="0.2">analysis</text>
<text x="851.5" y="402.6" font-family="Liberation Sans" font-size="7.80" fill="#000" textLength="6.2" lengthAdjust="spacingAndGlyphs" stroke="#000" stroke-width="0.2">of</text>
<text x="860.3" y="402.6" font-family="Liberation Sans" font-size="7.80" fill="#000" textLength="16.1" lengthAdjust="spacingAndGlyphs" stroke="#000" stroke-width="0.2" font-style="italic">nrITS</text>
<text x="879.3" y="402.6" font-family="Liberation Sans" font-size="7.80" fill="#000" textLength="25.9" lengthAdjust="spacingAndGlyphs" stroke="#000" stroke-width="0.2">dataset.</text>
<text x="908.3" y="402.6" font-family="Liberation Sans" font-size="7.80" fill="#000" textLength="29.9" lengthAdjust="spacingAndGlyphs" stroke="#000" stroke-width="0.2">Different</text>
<text x="940.8" y="402.6" font-family="Liberation Sans" font-size="7.80" fill="#000" textLength="20.4" lengthAdjust="spacingAndGlyphs" stroke="#000" stroke-width="0.2">colors</text>
<text x="964.0" y="402.6" font-family="Liberation Sans" font-size="7.80" fill="#000" textLength="26.4" lengthAdjust="spacingAndGlyphs" stroke="#000" stroke-width="0.2">indicate</text>
<text x="993.3" y="402.6" font-family="Liberation Sans" font-size="7.80" fill="#000" textLength="32.1" lengthAdjust="spacingAndGlyphs" stroke="#000" stroke-width="0.2">subgenus</text>
<text x="1028.3" y="402.6" font-family="Liberation Sans" font-size="7.80" fill="#000" textLength="6.2" lengthAdjust="spacingAndGlyphs" stroke="#000" stroke-width="0.2">or</text>
<text x="1037.5" y="402.6" font-family="Liberation Sans" font-size="7.80" fill="#000" textLength="26.6" lengthAdjust="spacingAndGlyphs" stroke="#000" stroke-width="0.2">sections</text>
<text x="1067.0" y="402.6" font-family="Liberation Sans" font-size="7.80" fill="#000" textLength="5.9" lengthAdjust="spacingAndGlyphs" stroke="#000" stroke-width="0.2">in</text>
<text x="1075.8" y="402.6" font-family="Liberation Sans" font-size="7.80" fill="#000" textLength="35.9" lengthAdjust="spacingAndGlyphs" stroke="#000" stroke-width="0.2">traditional</text>
<text x="1114.5" y="402.6" font-family="Liberation Sans" font-size="7.80" fill="#000" textLength="36.6" lengthAdjust="spacingAndGlyphs" stroke="#000" stroke-width="0.2">taxonomy.</text>
<text x="37.0" y="403.0" font-family="Liberation Sans" font-size="8.30" fill="#000" textLength="12.5" lengthAdjust="spacingAndGlyphs" font-weight="bold">Fig.</text>
<text x="659.2" y="402.6" font-family="Liberation Sans" font-size="7.80" fill="#000" textLength="12.1" lengthAdjust="spacingAndGlyphs" font-weight="bold">Fig.</text>
</svg>
<div class="banner"></div>
<svg width="1175" height="416" viewBox="0 0 1175 416" style="position:absolute;left:0;top:0"><text x="205.5" y="331.3" font-family="Liberation Sans" font-size="22" fill="#fff" textLength="93.0" lengthAdjust="spacingAndGlyphs">Phylogeny</text><text x="305.8" y="331.3" font-family="Liberation Sans" font-size="22" fill="#fff" textLength="14.4" lengthAdjust="spacingAndGlyphs">of</text><text x="328.2" y="331.3" font-family="Liberation Sans" font-size="22" fill="#fff" textLength="44.8" lengthAdjust="spacingAndGlyphs">Rosa</text><text x="378.0" y="331.3" font-family="Liberation Sans" font-size="22" fill="#fff" textLength="72.2" lengthAdjust="spacingAndGlyphs">sections</text><text x="455.2" y="331.3" font-family="Liberation Sans" font-size="22" fill="#fff" textLength="91.4" lengthAdjust="spacingAndGlyphs">Chinenses</text><text x="551.5" y="331.3" font-family="Liberation Sans" font-size="22" fill="#fff" textLength="34.1" lengthAdjust="spacingAndGlyphs">and</text><text x="592.2" y="331.3" font-family="Liberation Sans" font-size="22" fill="#fff" textLength="82.7" lengthAdjust="spacingAndGlyphs">Synstylae</text><text x="680.7" y="331.3" font-family="Liberation Sans" font-size="22" fill="#fff" textLength="95.5" lengthAdjust="spacingAndGlyphs">(Rosaceae)</text><text x="783.5" y="331.3" font-family="Liberation Sans" font-size="22" fill="#fff" textLength="51.7" lengthAdjust="spacingAndGlyphs">based</text><text x="841.6" y="331.3" font-family="Liberation Sans" font-size="22" fill="#fff" textLength="23.1" lengthAdjust="spacingAndGlyphs">on</text><text x="871.1" y="331.3" font-family="Liberation Sans" font-size="22" fill="#fff" textLength="98.6" lengthAdjust="spacingAndGlyphs">chloroplast</text><text x="975.8" y="331.3" font-family="Liberation Sans" font-size="22" fill="#fff" textLength="35.1" lengthAdjust="spacingAndGlyphs">and</text><text x="1015.7" y="331.3" font-family="Liberation Sans" font-size="22" fill="#fff" textLength="65.7" lengthAdjust="spacingAndGlyphs">nuclear</text><text x="1085.7" y="331.3" font-family="Liberation Sans" font-size="22" fill="#fff" textLength="71.7" lengthAdjust="spacingAndGlyphs">markers</text></svg>
</body></html>
